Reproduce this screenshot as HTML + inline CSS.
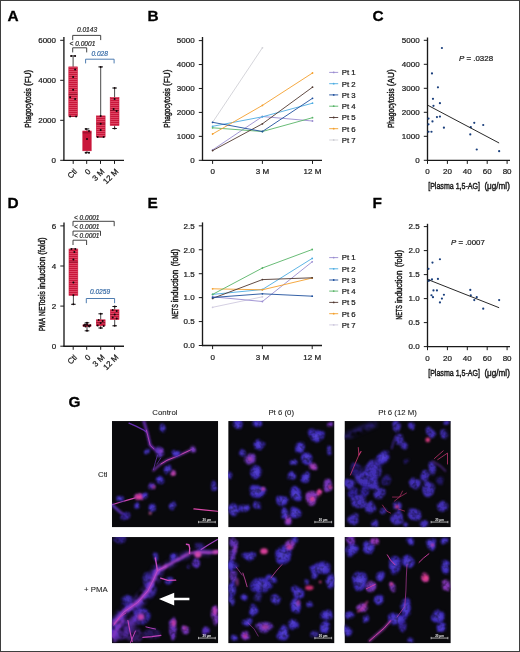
<!DOCTYPE html>
<html><head><meta charset="utf-8"><title>Figure</title>
<style>html,body{margin:0;padding:0;background:#fff;}svg{display:block;will-change:transform;}text{font-family:"Liberation Sans", sans-serif;}</style>
</head><body>
<svg width="520" height="652" viewBox="0 0 520 652">
<defs>
<pattern id="stripe" width="4" height="2" patternUnits="userSpaceOnUse"><rect width="4" height="2" fill="#c9173b"/><rect y="1.3" width="4" height="0.7" fill="#e85a76"/></pattern>
<filter id="b1" x="-50%" y="-50%" width="200%" height="200%"><feGaussianBlur stdDeviation="0.9"/></filter>
<filter id="b2" x="-50%" y="-50%" width="200%" height="200%"><feGaussianBlur stdDeviation="1.6"/></filter>
<filter id="b3" x="-50%" y="-50%" width="200%" height="200%"><feGaussianBlur stdDeviation="0.5"/></filter>
<filter id="cf" x="-10%" y="-10%" width="120%" height="120%" color-interpolation-filters="sRGB"><feTurbulence type="fractalNoise" baseFrequency="0.085" numOctaves="1" seed="7" result="n"/><feDisplacementMap in="SourceGraphic" in2="n" scale="8" xChannelSelector="R" yChannelSelector="G" result="d"/><feGaussianBlur in="d" stdDeviation="1.1" result="b"/><feTurbulence type="fractalNoise" baseFrequency="0.22" numOctaves="2" seed="3" result="n2"/><feColorMatrix in="n2" type="matrix" values="1.2 0 0 0 0.3  1.2 0 0 0 0.3  1.2 0 0 0 0.3  0 0 0 0 1" result="m"/><feComposite in="b" in2="m" operator="arithmetic" k1="1" k2="0" k3="0" k4="0"/></filter>
<filter id="hz" x="-20%" y="-20%" width="140%" height="140%" color-interpolation-filters="sRGB"><feGaussianBlur stdDeviation="2.2" result="b"/><feTurbulence type="fractalNoise" baseFrequency="0.12" numOctaves="2" seed="5" result="n2"/><feColorMatrix in="n2" type="matrix" values="2.2 0 0 0 -0.3  2.2 0 0 0 -0.3  2.2 0 0 0 -0.3  0 0 0 0 1" result="m"/><feComposite in="b" in2="m" operator="arithmetic" k1="1" k2="0" k3="0" k4="0"/></filter>
<radialGradient id="cell"><stop offset="0" stop-color="#5e4ce0"/><stop offset="0.55" stop-color="#4a36cc"/><stop offset="1" stop-color="#3322a6"/></radialGradient>
<radialGradient id="cellp"><stop offset="0" stop-color="#e048b0"/><stop offset="0.5" stop-color="#8a38c8"/><stop offset="1" stop-color="#40249a"/></radialGradient>
</defs>
<rect x="0" y="0" width="520" height="652" fill="#ffffff"/>
<text transform="translate(7.60,20.80)" font-size="15.4" text-anchor="start" fill="#000" font-weight="bold" font-style="normal"  stroke="#000" stroke-width="0.3">A</text>
<text transform="translate(147.60,20.80)" font-size="15.4" text-anchor="start" fill="#000" font-weight="bold" font-style="normal"  stroke="#000" stroke-width="0.3">B</text>
<text transform="translate(372.40,20.80)" font-size="15.4" text-anchor="start" fill="#000" font-weight="bold" font-style="normal"  stroke="#000" stroke-width="0.3">C</text>
<text transform="translate(7.60,208.30)" font-size="15.4" text-anchor="start" fill="#000" font-weight="bold" font-style="normal"  stroke="#000" stroke-width="0.3">D</text>
<text transform="translate(147.60,208.30)" font-size="15.4" text-anchor="start" fill="#000" font-weight="bold" font-style="normal"  stroke="#000" stroke-width="0.3">E</text>
<text transform="translate(372.40,208.30)" font-size="15.4" text-anchor="start" fill="#000" font-weight="bold" font-style="normal"  stroke="#000" stroke-width="0.3">F</text>
<text transform="translate(68.60,407.00)" font-size="15.4" text-anchor="start" fill="#000" font-weight="bold" font-style="normal"  stroke="#000" stroke-width="0.3">G</text>
<line x1="63.90" y1="37.00" x2="63.90" y2="160.90" stroke="#1a1a1a" stroke-width="1.35" />
<line x1="60.20" y1="160.30" x2="63.90" y2="160.30" stroke="#1a1a1a" stroke-width="1.0" />
<text transform="translate(56.00,163.15)" font-size="8.0" text-anchor="end" fill="#1a1a1a" font-weight="normal" font-style="normal"  stroke="#1a1a1a" stroke-width="0.22">0</text>
<line x1="60.20" y1="120.30" x2="63.90" y2="120.30" stroke="#1a1a1a" stroke-width="1.0" />
<text transform="translate(56.00,123.15)" font-size="8.0" text-anchor="end" fill="#1a1a1a" font-weight="normal" font-style="normal"  stroke="#1a1a1a" stroke-width="0.22">2000</text>
<line x1="60.20" y1="80.30" x2="63.90" y2="80.30" stroke="#1a1a1a" stroke-width="1.0" />
<text transform="translate(56.00,83.15)" font-size="8.0" text-anchor="end" fill="#1a1a1a" font-weight="normal" font-style="normal"  stroke="#1a1a1a" stroke-width="0.22">4000</text>
<line x1="60.20" y1="40.30" x2="63.90" y2="40.30" stroke="#1a1a1a" stroke-width="1.0" />
<text transform="translate(56.00,43.15)" font-size="8.0" text-anchor="end" fill="#1a1a1a" font-weight="normal" font-style="normal"  stroke="#1a1a1a" stroke-width="0.22">6000</text>
<line x1="63.30" y1="160.30" x2="124.00" y2="160.30" stroke="#1a1a1a" stroke-width="1.35" />
<line x1="73.20" y1="160.30" x2="73.20" y2="163.90" stroke="#1a1a1a" stroke-width="1.0" />
<line x1="86.70" y1="160.30" x2="86.70" y2="163.90" stroke="#1a1a1a" stroke-width="1.0" />
<line x1="100.50" y1="160.30" x2="100.50" y2="163.90" stroke="#1a1a1a" stroke-width="1.0" />
<line x1="114.50" y1="160.30" x2="114.50" y2="163.90" stroke="#1a1a1a" stroke-width="1.0" />
<text transform="translate(30.50,127.80) rotate(-90)" font-size="9.3" text-anchor="start" fill="#1a1a1a" font-weight="normal" font-style="normal"  textLength="39.6" lengthAdjust="spacingAndGlyphs" stroke="#1a1a1a" stroke-width="0.45">Phagocytosis</text>
<text transform="translate(30.50,85.90) rotate(-90)" font-size="9.3" text-anchor="start" fill="#1a1a1a" font-weight="normal" font-style="normal"  textLength="16.1" lengthAdjust="spacingAndGlyphs" stroke="#1a1a1a" stroke-width="0.45">(FU)</text>
<line x1="73.10" y1="55.90" x2="73.10" y2="66.90" stroke="#1a1a1a" stroke-width="0.8" />
<line x1="73.10" y1="116.40" x2="73.10" y2="116.40" stroke="#1a1a1a" stroke-width="0.8" />
<line x1="70.80" y1="55.90" x2="75.40" y2="55.90" stroke="#1a1a1a" stroke-width="1.0" />
<line x1="70.80" y1="116.40" x2="75.40" y2="116.40" stroke="#1a1a1a" stroke-width="1.0" />
<rect x="68.80" y="66.90" width="8.60" height="49.50" fill="url(#stripe)" stroke="#c9173b" stroke-width="0.6"/>
<line x1="68.80" y1="94.30" x2="77.40" y2="94.30" stroke="#8a0f28" stroke-width="0.9" />
<circle cx="71.10" cy="55.90" r="1.0" fill="#14060a" />
<circle cx="75.10" cy="55.90" r="1.0" fill="#14060a" />
<circle cx="75.10" cy="69.40" r="1.0" fill="#14060a" />
<circle cx="73.10" cy="77.00" r="1.0" fill="#14060a" />
<circle cx="73.10" cy="89.70" r="1.0" fill="#14060a" />
<circle cx="70.10" cy="97.30" r="1.0" fill="#14060a" />
<circle cx="75.10" cy="99.00" r="1.0" fill="#14060a" />
<circle cx="70.10" cy="116.40" r="1.0" fill="#14060a" />
<circle cx="76.10" cy="116.40" r="1.0" fill="#14060a" />
<line x1="87.00" y1="128.90" x2="87.00" y2="131.00" stroke="#1a1a1a" stroke-width="0.8" />
<line x1="87.00" y1="150.80" x2="87.00" y2="152.70" stroke="#1a1a1a" stroke-width="0.8" />
<line x1="84.70" y1="128.90" x2="89.30" y2="128.90" stroke="#1a1a1a" stroke-width="1.0" />
<line x1="84.70" y1="152.70" x2="89.30" y2="152.70" stroke="#1a1a1a" stroke-width="1.0" />
<rect x="82.80" y="131.00" width="8.40" height="19.80" fill="#c9173b" stroke="#c9173b" stroke-width="0.6"/>
<line x1="82.80" y1="132.80" x2="91.20" y2="132.80" stroke="#8a0f28" stroke-width="0.9" />
<circle cx="86.00" cy="129.00" r="1.0" fill="#14060a" />
<circle cx="89.00" cy="131.00" r="1.0" fill="#14060a" />
<circle cx="87.00" cy="139.00" r="1.0" fill="#14060a" />
<circle cx="86.00" cy="152.70" r="1.0" fill="#14060a" />
<circle cx="89.00" cy="152.70" r="1.0" fill="#14060a" />
<line x1="100.70" y1="66.90" x2="100.70" y2="115.90" stroke="#1a1a1a" stroke-width="0.8" />
<line x1="100.70" y1="137.00" x2="100.70" y2="137.00" stroke="#1a1a1a" stroke-width="0.8" />
<line x1="98.40" y1="66.90" x2="103.00" y2="66.90" stroke="#1a1a1a" stroke-width="1.0" />
<line x1="98.40" y1="137.00" x2="103.00" y2="137.00" stroke="#1a1a1a" stroke-width="1.0" />
<rect x="96.30" y="115.90" width="8.80" height="21.10" fill="url(#stripe)" stroke="#c9173b" stroke-width="0.6"/>
<line x1="96.30" y1="123.80" x2="105.10" y2="123.80" stroke="#8a0f28" stroke-width="0.9" />
<circle cx="100.70" cy="66.90" r="1.0" fill="#14060a" />
<circle cx="100.70" cy="116.00" r="1.0" fill="#14060a" />
<circle cx="100.70" cy="123.80" r="1.0" fill="#14060a" />
<circle cx="100.70" cy="130.00" r="1.0" fill="#14060a" />
<circle cx="97.70" cy="137.00" r="1.0" fill="#14060a" />
<circle cx="103.70" cy="137.00" r="1.0" fill="#14060a" />
<line x1="114.60" y1="88.00" x2="114.60" y2="97.60" stroke="#1a1a1a" stroke-width="0.8" />
<line x1="114.60" y1="125.50" x2="114.60" y2="128.50" stroke="#1a1a1a" stroke-width="0.8" />
<line x1="112.30" y1="88.00" x2="116.90" y2="88.00" stroke="#1a1a1a" stroke-width="1.0" />
<line x1="112.30" y1="128.50" x2="116.90" y2="128.50" stroke="#1a1a1a" stroke-width="1.0" />
<rect x="110.20" y="97.60" width="8.80" height="27.90" fill="url(#stripe)" stroke="#c9173b" stroke-width="0.6"/>
<line x1="110.20" y1="110.50" x2="119.00" y2="110.50" stroke="#8a0f28" stroke-width="0.9" />
<circle cx="114.60" cy="88.00" r="1.0" fill="#14060a" />
<circle cx="114.60" cy="99.00" r="1.0" fill="#14060a" />
<circle cx="113.60" cy="109.00" r="1.0" fill="#14060a" />
<circle cx="116.60" cy="111.00" r="1.0" fill="#14060a" />
<circle cx="114.60" cy="128.50" r="1.0" fill="#14060a" />
<text transform="translate(77.60,172.00) rotate(-45)" font-size="8.0" text-anchor="end" fill="#1a1a1a" font-weight="normal" font-style="normal"  stroke="#1a1a1a" stroke-width="0.22">Ctl</text>
<text transform="translate(91.10,172.00) rotate(-45)" font-size="8.0" text-anchor="end" fill="#1a1a1a" font-weight="normal" font-style="normal"  stroke="#1a1a1a" stroke-width="0.22">0</text>
<text transform="translate(104.90,172.00) rotate(-45)" font-size="8.0" text-anchor="end" fill="#1a1a1a" font-weight="normal" font-style="normal"  stroke="#1a1a1a" stroke-width="0.22">3 M</text>
<text transform="translate(118.90,172.00) rotate(-45)" font-size="8.0" text-anchor="end" fill="#1a1a1a" font-weight="normal" font-style="normal"  stroke="#1a1a1a" stroke-width="0.22">12 M</text>
<polyline points="72.70,40.10 72.70,35.40 100.70,35.40 100.70,40.10" fill="none" stroke="#2e2e2e" stroke-width="0.9" />
<text transform="translate(87.00,32.10)" font-size="6.6" text-anchor="middle" fill="#2e2e2e" font-weight="normal" font-style="italic"  stroke="#2e2e2e" stroke-width="0.22">0.0143</text>
<polyline points="72.70,52.40 72.70,47.80 86.70,47.80 86.70,52.40" fill="none" stroke="#2e2e2e" stroke-width="0.9" />
<text transform="translate(82.40,46.00)" font-size="6.6" text-anchor="middle" fill="#2e2e2e" font-weight="normal" font-style="italic"  stroke="#2e2e2e" stroke-width="0.22">&lt; 0.0001</text>
<polyline points="85.60,63.40 85.60,59.20 114.10,59.20 114.10,63.40" fill="none" stroke="#3b6ea8" stroke-width="0.9" />
<text transform="translate(99.70,56.10)" font-size="6.6" text-anchor="middle" fill="#3b6ea8" font-weight="normal" font-style="italic"  stroke="#3b6ea8" stroke-width="0.22">0.028</text>
<line x1="202.50" y1="37.00" x2="202.50" y2="160.90" stroke="#1a1a1a" stroke-width="1.35" />
<line x1="198.80" y1="160.30" x2="202.50" y2="160.30" stroke="#1a1a1a" stroke-width="1.0" />
<text transform="translate(194.60,163.15)" font-size="8.0" text-anchor="end" fill="#1a1a1a" font-weight="normal" font-style="normal"  stroke="#1a1a1a" stroke-width="0.22">0</text>
<line x1="198.80" y1="136.36" x2="202.50" y2="136.36" stroke="#1a1a1a" stroke-width="1.0" />
<text transform="translate(194.60,139.21)" font-size="8.0" text-anchor="end" fill="#1a1a1a" font-weight="normal" font-style="normal"  stroke="#1a1a1a" stroke-width="0.22">1000</text>
<line x1="198.80" y1="112.42" x2="202.50" y2="112.42" stroke="#1a1a1a" stroke-width="1.0" />
<text transform="translate(194.60,115.27)" font-size="8.0" text-anchor="end" fill="#1a1a1a" font-weight="normal" font-style="normal"  stroke="#1a1a1a" stroke-width="0.22">2000</text>
<line x1="198.80" y1="88.48" x2="202.50" y2="88.48" stroke="#1a1a1a" stroke-width="1.0" />
<text transform="translate(194.60,91.33)" font-size="8.0" text-anchor="end" fill="#1a1a1a" font-weight="normal" font-style="normal"  stroke="#1a1a1a" stroke-width="0.22">3000</text>
<line x1="198.80" y1="64.54" x2="202.50" y2="64.54" stroke="#1a1a1a" stroke-width="1.0" />
<text transform="translate(194.60,67.39)" font-size="8.0" text-anchor="end" fill="#1a1a1a" font-weight="normal" font-style="normal"  stroke="#1a1a1a" stroke-width="0.22">4000</text>
<line x1="198.80" y1="40.60" x2="202.50" y2="40.60" stroke="#1a1a1a" stroke-width="1.0" />
<text transform="translate(194.60,43.45)" font-size="8.0" text-anchor="end" fill="#1a1a1a" font-weight="normal" font-style="normal"  stroke="#1a1a1a" stroke-width="0.22">5000</text>
<line x1="201.90" y1="160.30" x2="322.00" y2="160.30" stroke="#1a1a1a" stroke-width="1.35" />
<line x1="212.60" y1="160.30" x2="212.60" y2="163.90" stroke="#1a1a1a" stroke-width="1.0" />
<line x1="262.40" y1="160.30" x2="262.40" y2="163.90" stroke="#1a1a1a" stroke-width="1.0" />
<line x1="312.50" y1="160.30" x2="312.50" y2="163.90" stroke="#1a1a1a" stroke-width="1.0" />
<text transform="translate(169.70,127.80) rotate(-90)" font-size="9.3" text-anchor="start" fill="#1a1a1a" font-weight="normal" font-style="normal"  textLength="39.6" lengthAdjust="spacingAndGlyphs" stroke="#1a1a1a" stroke-width="0.45">Phagocytosis</text>
<text transform="translate(169.70,85.90) rotate(-90)" font-size="9.3" text-anchor="start" fill="#1a1a1a" font-weight="normal" font-style="normal"  textLength="16.3" lengthAdjust="spacingAndGlyphs" stroke="#1a1a1a" stroke-width="0.45">(FU)</text>
<text transform="translate(212.60,174.30)" font-size="8.0" text-anchor="middle" fill="#1a1a1a" font-weight="normal" font-style="normal"  stroke="#1a1a1a" stroke-width="0.22">0</text>
<text transform="translate(262.40,174.30)" font-size="8.0" text-anchor="middle" fill="#1a1a1a" font-weight="normal" font-style="normal"  stroke="#1a1a1a" stroke-width="0.22">3 M</text>
<text transform="translate(312.50,174.30)" font-size="8.0" text-anchor="middle" fill="#1a1a1a" font-weight="normal" font-style="normal"  stroke="#1a1a1a" stroke-width="0.22">12 M</text>
<polyline points="212.60,122.30 262.40,47.80" fill="none" stroke="#d0d0d6" stroke-width="0.9" stroke-linejoin="round"/>
<circle cx="212.60" cy="122.30" r="0.9" fill="#d0d0d6" />
<circle cx="262.40" cy="47.80" r="0.9" fill="#d0d0d6" />
<polyline points="212.60,149.90 262.40,116.50 312.50,121.00" fill="none" stroke="#9a8cd0" stroke-width="0.9" stroke-linejoin="round"/>
<circle cx="212.60" cy="149.90" r="0.9" fill="#9a8cd0" />
<circle cx="262.40" cy="116.50" r="0.9" fill="#9a8cd0" />
<circle cx="312.50" cy="121.00" r="0.9" fill="#9a8cd0" />
<polyline points="212.60,126.30 262.40,116.80 312.50,103.20" fill="none" stroke="#4cace2" stroke-width="0.9" stroke-linejoin="round"/>
<circle cx="212.60" cy="126.30" r="0.9" fill="#4cace2" />
<circle cx="262.40" cy="116.80" r="0.9" fill="#4cace2" />
<circle cx="312.50" cy="103.20" r="0.9" fill="#4cace2" />
<polyline points="212.60,127.80 262.40,131.50 312.50,117.70" fill="none" stroke="#58b468" stroke-width="0.9" stroke-linejoin="round"/>
<circle cx="212.60" cy="127.80" r="0.9" fill="#58b468" />
<circle cx="262.40" cy="131.50" r="0.9" fill="#58b468" />
<circle cx="312.50" cy="117.70" r="0.9" fill="#58b468" />
<polyline points="212.60,134.00 262.40,105.40 312.50,73.00" fill="none" stroke="#f49f2c" stroke-width="0.9" stroke-linejoin="round"/>
<circle cx="212.60" cy="134.00" r="0.9" fill="#f49f2c" />
<circle cx="262.40" cy="105.40" r="0.9" fill="#f49f2c" />
<circle cx="312.50" cy="73.00" r="0.9" fill="#f49f2c" />
<polyline points="212.60,150.60 262.40,123.80 312.50,87.20" fill="none" stroke="#503830" stroke-width="0.9" stroke-linejoin="round"/>
<circle cx="212.60" cy="150.60" r="0.9" fill="#503830" />
<circle cx="262.40" cy="123.80" r="0.9" fill="#503830" />
<circle cx="312.50" cy="87.20" r="0.9" fill="#503830" />
<polyline points="212.60,122.30 262.40,131.50 312.50,98.30" fill="none" stroke="#1e4f9c" stroke-width="0.9" stroke-linejoin="round"/>
<circle cx="212.60" cy="122.30" r="0.9" fill="#1e4f9c" />
<circle cx="262.40" cy="131.50" r="0.9" fill="#1e4f9c" />
<circle cx="312.50" cy="98.30" r="0.9" fill="#1e4f9c" />
<line x1="329.20" y1="72.40" x2="338.20" y2="72.40" stroke="#9a8cd0" stroke-width="0.9" />
<circle cx="333.70" cy="72.40" r="0.9" fill="#9a8cd0" />
<text transform="translate(341.80,75.20)" font-size="7.8" text-anchor="start" fill="#1a1a1a" font-weight="normal" font-style="normal"  stroke="#1a1a1a" stroke-width="0.22">Pt 1</text>
<line x1="329.20" y1="83.70" x2="338.20" y2="83.70" stroke="#4cace2" stroke-width="0.9" />
<circle cx="333.70" cy="83.70" r="0.9" fill="#4cace2" />
<text transform="translate(341.80,86.50)" font-size="7.8" text-anchor="start" fill="#1a1a1a" font-weight="normal" font-style="normal"  stroke="#1a1a1a" stroke-width="0.22">Pt 2</text>
<line x1="329.20" y1="94.90" x2="338.20" y2="94.90" stroke="#1e4f9c" stroke-width="0.9" />
<circle cx="333.70" cy="94.90" r="0.9" fill="#1e4f9c" />
<text transform="translate(341.80,97.70)" font-size="7.8" text-anchor="start" fill="#1a1a1a" font-weight="normal" font-style="normal"  stroke="#1a1a1a" stroke-width="0.22">Pt 3</text>
<line x1="329.20" y1="106.20" x2="338.20" y2="106.20" stroke="#58b468" stroke-width="0.9" />
<circle cx="333.70" cy="106.20" r="0.9" fill="#58b468" />
<text transform="translate(341.80,109.00)" font-size="7.8" text-anchor="start" fill="#1a1a1a" font-weight="normal" font-style="normal"  stroke="#1a1a1a" stroke-width="0.22">Pt 4</text>
<line x1="329.20" y1="117.50" x2="338.20" y2="117.50" stroke="#503830" stroke-width="0.9" />
<circle cx="333.70" cy="117.50" r="0.9" fill="#503830" />
<text transform="translate(341.80,120.30)" font-size="7.8" text-anchor="start" fill="#1a1a1a" font-weight="normal" font-style="normal"  stroke="#1a1a1a" stroke-width="0.22">Pt 5</text>
<line x1="329.20" y1="128.70" x2="338.20" y2="128.70" stroke="#f49f2c" stroke-width="0.9" />
<circle cx="333.70" cy="128.70" r="0.9" fill="#f49f2c" />
<text transform="translate(341.80,131.50)" font-size="7.8" text-anchor="start" fill="#1a1a1a" font-weight="normal" font-style="normal"  stroke="#1a1a1a" stroke-width="0.22">Pt 6</text>
<line x1="329.20" y1="140.00" x2="338.20" y2="140.00" stroke="#d0d0d6" stroke-width="0.9" />
<circle cx="333.70" cy="140.00" r="0.9" fill="#d0d0d6" />
<text transform="translate(341.80,142.80)" font-size="7.8" text-anchor="start" fill="#1a1a1a" font-weight="normal" font-style="normal"  stroke="#1a1a1a" stroke-width="0.22">Pt 7</text>
<line x1="427.50" y1="37.50" x2="427.50" y2="160.90" stroke="#1a1a1a" stroke-width="1.35" />
<line x1="423.80" y1="160.30" x2="427.50" y2="160.30" stroke="#1a1a1a" stroke-width="1.0" />
<text transform="translate(419.60,163.15)" font-size="8.0" text-anchor="end" fill="#1a1a1a" font-weight="normal" font-style="normal"  stroke="#1a1a1a" stroke-width="0.22">0</text>
<line x1="423.80" y1="136.30" x2="427.50" y2="136.30" stroke="#1a1a1a" stroke-width="1.0" />
<text transform="translate(419.60,139.15)" font-size="8.0" text-anchor="end" fill="#1a1a1a" font-weight="normal" font-style="normal"  stroke="#1a1a1a" stroke-width="0.22">1000</text>
<line x1="423.80" y1="112.30" x2="427.50" y2="112.30" stroke="#1a1a1a" stroke-width="1.0" />
<text transform="translate(419.60,115.15)" font-size="8.0" text-anchor="end" fill="#1a1a1a" font-weight="normal" font-style="normal"  stroke="#1a1a1a" stroke-width="0.22">2000</text>
<line x1="423.80" y1="88.30" x2="427.50" y2="88.30" stroke="#1a1a1a" stroke-width="1.0" />
<text transform="translate(419.60,91.15)" font-size="8.0" text-anchor="end" fill="#1a1a1a" font-weight="normal" font-style="normal"  stroke="#1a1a1a" stroke-width="0.22">3000</text>
<line x1="423.80" y1="64.30" x2="427.50" y2="64.30" stroke="#1a1a1a" stroke-width="1.0" />
<text transform="translate(419.60,67.15)" font-size="8.0" text-anchor="end" fill="#1a1a1a" font-weight="normal" font-style="normal"  stroke="#1a1a1a" stroke-width="0.22">4000</text>
<line x1="423.80" y1="40.30" x2="427.50" y2="40.30" stroke="#1a1a1a" stroke-width="1.0" />
<text transform="translate(419.60,43.15)" font-size="8.0" text-anchor="end" fill="#1a1a1a" font-weight="normal" font-style="normal"  stroke="#1a1a1a" stroke-width="0.22">5000</text>
<line x1="426.90" y1="160.30" x2="510.00" y2="160.30" stroke="#1a1a1a" stroke-width="1.35" />
<line x1="427.50" y1="160.30" x2="427.50" y2="163.90" stroke="#1a1a1a" stroke-width="1.0" />
<line x1="447.40" y1="160.30" x2="447.40" y2="163.90" stroke="#1a1a1a" stroke-width="1.0" />
<line x1="467.30" y1="160.30" x2="467.30" y2="163.90" stroke="#1a1a1a" stroke-width="1.0" />
<line x1="487.20" y1="160.30" x2="487.20" y2="163.90" stroke="#1a1a1a" stroke-width="1.0" />
<line x1="507.10" y1="160.30" x2="507.10" y2="163.90" stroke="#1a1a1a" stroke-width="1.0" />
<text transform="translate(427.50,174.30)" font-size="8.0" text-anchor="middle" fill="#1a1a1a" font-weight="normal" font-style="normal"  stroke="#1a1a1a" stroke-width="0.22">0</text>
<text transform="translate(447.40,174.30)" font-size="8.0" text-anchor="middle" fill="#1a1a1a" font-weight="normal" font-style="normal"  stroke="#1a1a1a" stroke-width="0.22">20</text>
<text transform="translate(467.30,174.30)" font-size="8.0" text-anchor="middle" fill="#1a1a1a" font-weight="normal" font-style="normal"  stroke="#1a1a1a" stroke-width="0.22">40</text>
<text transform="translate(487.20,174.30)" font-size="8.0" text-anchor="middle" fill="#1a1a1a" font-weight="normal" font-style="normal"  stroke="#1a1a1a" stroke-width="0.22">60</text>
<text transform="translate(507.10,174.30)" font-size="8.0" text-anchor="middle" fill="#1a1a1a" font-weight="normal" font-style="normal"  stroke="#1a1a1a" stroke-width="0.22">80</text>
<text transform="translate(393.80,128.10) rotate(-90)" font-size="9.3" text-anchor="start" fill="#1a1a1a" font-weight="normal" font-style="normal"  textLength="39.6" lengthAdjust="spacingAndGlyphs" stroke="#1a1a1a" stroke-width="0.45">Phagocytosis</text>
<text transform="translate(393.80,86.20) rotate(-90)" font-size="9.3" text-anchor="start" fill="#1a1a1a" font-weight="normal" font-style="normal"  textLength="16.8" lengthAdjust="spacingAndGlyphs" stroke="#1a1a1a" stroke-width="0.45">(AU)</text>
<text transform="translate(428.20,189.00)" font-size="9.3" text-anchor="start" fill="#1a1a1a" font-weight="normal" font-style="normal"  textLength="51.8" lengthAdjust="spacingAndGlyphs" stroke="#1a1a1a" stroke-width="0.45">[Plasma 1,5-AG]</text>
<text transform="translate(484.40,189.00)" font-size="9.3" text-anchor="start" fill="#1a1a1a" font-weight="normal" font-style="normal"  textLength="25.5" lengthAdjust="spacingAndGlyphs" stroke="#1a1a1a" stroke-width="0.45">(μg/ml)</text>
<circle cx="441.93" cy="47.98" r="1.1" fill="#1a3f7c" />
<circle cx="431.98" cy="73.42" r="1.1" fill="#1a3f7c" />
<circle cx="437.95" cy="87.34" r="1.1" fill="#1a3f7c" />
<circle cx="432.97" cy="98.86" r="1.1" fill="#1a3f7c" />
<circle cx="439.94" cy="103.18" r="1.1" fill="#1a3f7c" />
<circle cx="433.47" cy="105.82" r="1.1" fill="#1a3f7c" />
<circle cx="428.50" cy="118.54" r="1.1" fill="#1a3f7c" />
<circle cx="436.95" cy="117.10" r="1.1" fill="#1a3f7c" />
<circle cx="439.94" cy="116.62" r="1.1" fill="#1a3f7c" />
<circle cx="432.48" cy="121.42" r="1.1" fill="#1a3f7c" />
<circle cx="428.50" cy="124.30" r="1.1" fill="#1a3f7c" />
<circle cx="443.92" cy="127.66" r="1.1" fill="#1a3f7c" />
<circle cx="428.50" cy="131.74" r="1.1" fill="#1a3f7c" />
<circle cx="431.48" cy="131.74" r="1.1" fill="#1a3f7c" />
<circle cx="470.78" cy="127.18" r="1.1" fill="#1a3f7c" />
<circle cx="474.26" cy="122.86" r="1.1" fill="#1a3f7c" />
<circle cx="483.22" cy="125.02" r="1.1" fill="#1a3f7c" />
<circle cx="470.28" cy="134.38" r="1.1" fill="#1a3f7c" />
<circle cx="476.75" cy="149.50" r="1.1" fill="#1a3f7c" />
<circle cx="499.14" cy="151.18" r="1.1" fill="#1a3f7c" />
<line x1="427.50" y1="105.10" x2="499.14" y2="143.02" stroke="#1c1c1c" stroke-width="0.95" />
<text transform="translate(458.90,61.40)" font-size="8.0" text-anchor="start" fill="#1a1a1a" font-weight="normal" font-style="normal"  textLength="34.2" lengthAdjust="spacingAndGlyphs" stroke="#1a1a1a" stroke-width="0.22"><tspan font-style="italic">P</tspan> = .0328</text>
<line x1="64.00" y1="222.50" x2="64.00" y2="346.80" stroke="#1a1a1a" stroke-width="1.35" />
<line x1="60.30" y1="346.20" x2="64.00" y2="346.20" stroke="#1a1a1a" stroke-width="1.0" />
<text transform="translate(56.10,349.05)" font-size="8.0" text-anchor="end" fill="#1a1a1a" font-weight="normal" font-style="normal"  stroke="#1a1a1a" stroke-width="0.22">0</text>
<line x1="60.30" y1="306.10" x2="64.00" y2="306.10" stroke="#1a1a1a" stroke-width="1.0" />
<text transform="translate(56.10,308.95)" font-size="8.0" text-anchor="end" fill="#1a1a1a" font-weight="normal" font-style="normal"  stroke="#1a1a1a" stroke-width="0.22">2</text>
<line x1="60.30" y1="266.00" x2="64.00" y2="266.00" stroke="#1a1a1a" stroke-width="1.0" />
<text transform="translate(56.10,268.85)" font-size="8.0" text-anchor="end" fill="#1a1a1a" font-weight="normal" font-style="normal"  stroke="#1a1a1a" stroke-width="0.22">4</text>
<line x1="60.30" y1="225.90" x2="64.00" y2="225.90" stroke="#1a1a1a" stroke-width="1.0" />
<text transform="translate(56.10,228.75)" font-size="8.0" text-anchor="end" fill="#1a1a1a" font-weight="normal" font-style="normal"  stroke="#1a1a1a" stroke-width="0.22">6</text>
<line x1="63.40" y1="346.20" x2="124.00" y2="346.20" stroke="#1a1a1a" stroke-width="1.35" />
<line x1="73.20" y1="346.20" x2="73.20" y2="349.80" stroke="#1a1a1a" stroke-width="1.0" />
<line x1="86.70" y1="346.20" x2="86.70" y2="349.80" stroke="#1a1a1a" stroke-width="1.0" />
<line x1="100.70" y1="346.20" x2="100.70" y2="349.80" stroke="#1a1a1a" stroke-width="1.0" />
<line x1="114.60" y1="346.20" x2="114.60" y2="349.80" stroke="#1a1a1a" stroke-width="1.0" />
<text transform="translate(45.40,330.90) rotate(-90)" font-size="9.3" text-anchor="start" fill="#1a1a1a" font-weight="normal" font-style="normal"  textLength="12.9" lengthAdjust="spacingAndGlyphs" stroke="#1a1a1a" stroke-width="0.45">PMA</text>
<text transform="translate(45.40,315.90) rotate(-90)" font-size="9.3" text-anchor="start" fill="#1a1a1a" font-weight="normal" font-style="normal"  textLength="24.7" lengthAdjust="spacingAndGlyphs" stroke="#1a1a1a" stroke-width="0.45">NETosis</text>
<text transform="translate(45.40,289.00) rotate(-90)" font-size="9.3" text-anchor="start" fill="#1a1a1a" font-weight="normal" font-style="normal"  textLength="32.2" lengthAdjust="spacingAndGlyphs" stroke="#1a1a1a" stroke-width="0.45">induction</text>
<text transform="translate(45.40,254.70) rotate(-90)" font-size="9.3" text-anchor="start" fill="#1a1a1a" font-weight="normal" font-style="normal"  textLength="17.2" lengthAdjust="spacingAndGlyphs" stroke="#1a1a1a" stroke-width="0.45">(fold)</text>
<line x1="73.40" y1="249.00" x2="73.40" y2="249.00" stroke="#1a1a1a" stroke-width="0.8" />
<line x1="73.40" y1="295.30" x2="73.40" y2="304.30" stroke="#1a1a1a" stroke-width="0.8" />
<line x1="71.10" y1="249.00" x2="75.70" y2="249.00" stroke="#1a1a1a" stroke-width="1.0" />
<line x1="71.10" y1="304.30" x2="75.70" y2="304.30" stroke="#1a1a1a" stroke-width="1.0" />
<rect x="69.00" y="249.00" width="8.80" height="46.30" fill="url(#stripe)" stroke="#c9173b" stroke-width="0.6"/>
<line x1="69.00" y1="262.00" x2="77.80" y2="262.00" stroke="#8a0f28" stroke-width="0.9" />
<circle cx="71.40" cy="249.00" r="1.0" fill="#14060a" />
<circle cx="75.40" cy="249.00" r="1.0" fill="#14060a" />
<circle cx="74.40" cy="252.00" r="1.0" fill="#14060a" />
<circle cx="73.40" cy="259.50" r="1.0" fill="#14060a" />
<circle cx="73.40" cy="282.50" r="1.0" fill="#14060a" />
<circle cx="73.40" cy="295.30" r="1.0" fill="#14060a" />
<circle cx="73.40" cy="304.30" r="1.0" fill="#14060a" />
<line x1="87.00" y1="322.80" x2="87.00" y2="324.80" stroke="#1a1a1a" stroke-width="0.8" />
<line x1="87.00" y1="326.40" x2="87.00" y2="330.80" stroke="#1a1a1a" stroke-width="0.8" />
<line x1="84.70" y1="322.80" x2="89.30" y2="322.80" stroke="#1a1a1a" stroke-width="1.0" />
<line x1="84.70" y1="330.80" x2="89.30" y2="330.80" stroke="#1a1a1a" stroke-width="1.0" />
<rect x="83.00" y="324.80" width="8.00" height="1.60" fill="#c9173b" stroke="#c9173b" stroke-width="0.6"/>
<line x1="83.00" y1="325.60" x2="91.00" y2="325.60" stroke="#8a0f28" stroke-width="0.9" />
<circle cx="83.80" cy="325.60" r="1.0" fill="#14060a" />
<circle cx="90.20" cy="325.20" r="1.0" fill="#14060a" />
<circle cx="87.00" cy="322.80" r="1.0" fill="#14060a" />
<circle cx="85.50" cy="326.60" r="1.0" fill="#14060a" />
<circle cx="88.50" cy="325.80" r="1.0" fill="#14060a" />
<circle cx="87.00" cy="324.60" r="1.0" fill="#14060a" />
<circle cx="85.00" cy="324.60" r="1.0" fill="#14060a" />
<circle cx="89.20" cy="326.60" r="1.0" fill="#14060a" />
<circle cx="87.00" cy="330.80" r="1.0" fill="#14060a" />
<line x1="100.70" y1="313.80" x2="100.70" y2="319.80" stroke="#1a1a1a" stroke-width="0.8" />
<line x1="100.70" y1="325.80" x2="100.70" y2="328.00" stroke="#1a1a1a" stroke-width="0.8" />
<line x1="98.40" y1="313.80" x2="103.00" y2="313.80" stroke="#1a1a1a" stroke-width="1.0" />
<line x1="98.40" y1="328.00" x2="103.00" y2="328.00" stroke="#1a1a1a" stroke-width="1.0" />
<rect x="96.30" y="319.80" width="8.80" height="6.00" fill="url(#stripe)" stroke="#c9173b" stroke-width="0.6"/>
<line x1="96.30" y1="322.80" x2="105.10" y2="322.80" stroke="#8a0f28" stroke-width="0.9" />
<circle cx="100.70" cy="313.80" r="1.0" fill="#14060a" />
<circle cx="98.70" cy="320.00" r="1.0" fill="#14060a" />
<circle cx="102.70" cy="321.00" r="1.0" fill="#14060a" />
<circle cx="100.70" cy="323.00" r="1.0" fill="#14060a" />
<circle cx="97.70" cy="325.50" r="1.0" fill="#14060a" />
<circle cx="103.70" cy="326.00" r="1.0" fill="#14060a" />
<circle cx="100.70" cy="328.00" r="1.0" fill="#14060a" />
<line x1="114.70" y1="306.50" x2="114.70" y2="309.80" stroke="#1a1a1a" stroke-width="0.8" />
<line x1="114.70" y1="319.50" x2="114.70" y2="325.80" stroke="#1a1a1a" stroke-width="0.8" />
<line x1="112.40" y1="306.50" x2="117.00" y2="306.50" stroke="#1a1a1a" stroke-width="1.0" />
<line x1="112.40" y1="325.80" x2="117.00" y2="325.80" stroke="#1a1a1a" stroke-width="1.0" />
<rect x="110.40" y="309.80" width="8.60" height="9.70" fill="url(#stripe)" stroke="#c9173b" stroke-width="0.6"/>
<line x1="110.40" y1="314.50" x2="119.00" y2="314.50" stroke="#8a0f28" stroke-width="0.9" />
<circle cx="114.70" cy="306.50" r="1.0" fill="#14060a" />
<circle cx="112.70" cy="310.00" r="1.0" fill="#14060a" />
<circle cx="116.70" cy="311.00" r="1.0" fill="#14060a" />
<circle cx="114.70" cy="314.50" r="1.0" fill="#14060a" />
<circle cx="112.70" cy="317.50" r="1.0" fill="#14060a" />
<circle cx="116.70" cy="318.50" r="1.0" fill="#14060a" />
<circle cx="114.70" cy="325.80" r="1.0" fill="#14060a" />
<text transform="translate(77.60,357.90) rotate(-45)" font-size="8.0" text-anchor="end" fill="#1a1a1a" font-weight="normal" font-style="normal"  stroke="#1a1a1a" stroke-width="0.22">Ctl</text>
<text transform="translate(91.10,357.90) rotate(-45)" font-size="8.0" text-anchor="end" fill="#1a1a1a" font-weight="normal" font-style="normal"  stroke="#1a1a1a" stroke-width="0.22">0</text>
<text transform="translate(105.10,357.90) rotate(-45)" font-size="8.0" text-anchor="end" fill="#1a1a1a" font-weight="normal" font-style="normal"  stroke="#1a1a1a" stroke-width="0.22">3 M</text>
<text transform="translate(119.00,357.90) rotate(-45)" font-size="8.0" text-anchor="end" fill="#1a1a1a" font-weight="normal" font-style="normal"  stroke="#1a1a1a" stroke-width="0.22">12 M</text>
<polyline points="73.00,226.20 73.00,221.30 114.20,221.30 114.20,226.20" fill="none" stroke="#2e2e2e" stroke-width="0.9" />
<text transform="translate(74.00,219.60)" font-size="6.5" text-anchor="start" fill="#2e2e2e" font-weight="normal" font-style="italic"  stroke="#2e2e2e" stroke-width="0.22">&lt; 0.0001</text>
<polyline points="73.00,235.80 73.00,231.10 100.50,231.10 100.50,235.80" fill="none" stroke="#2e2e2e" stroke-width="0.9" />
<text transform="translate(74.00,229.00)" font-size="6.5" text-anchor="start" fill="#2e2e2e" font-weight="normal" font-style="italic"  stroke="#2e2e2e" stroke-width="0.22">&lt; 0.0001</text>
<polyline points="73.00,245.00 73.00,240.20 86.60,240.20 86.60,245.00" fill="none" stroke="#2e2e2e" stroke-width="0.9" />
<text transform="translate(74.00,238.00)" font-size="6.5" text-anchor="start" fill="#2e2e2e" font-weight="normal" font-style="italic"  stroke="#2e2e2e" stroke-width="0.22">&lt; 0.0001</text>
<polyline points="86.30,303.20 86.30,298.50 114.60,298.50 114.60,303.20" fill="none" stroke="#3b6ea8" stroke-width="0.9" />
<text transform="translate(100.00,294.30)" font-size="6.6" text-anchor="middle" fill="#3b6ea8" font-weight="normal" font-style="italic"  stroke="#3b6ea8" stroke-width="0.22">0.0259</text>
<line x1="202.50" y1="222.40" x2="202.50" y2="346.10" stroke="#1a1a1a" stroke-width="1.35" />
<line x1="198.80" y1="345.50" x2="202.50" y2="345.50" stroke="#1a1a1a" stroke-width="1.0" />
<text transform="translate(194.60,348.35)" font-size="8.0" text-anchor="end" fill="#1a1a1a" font-weight="normal" font-style="normal"  stroke="#1a1a1a" stroke-width="0.22">0.0</text>
<line x1="198.80" y1="321.57" x2="202.50" y2="321.57" stroke="#1a1a1a" stroke-width="1.0" />
<text transform="translate(194.60,324.42)" font-size="8.0" text-anchor="end" fill="#1a1a1a" font-weight="normal" font-style="normal"  stroke="#1a1a1a" stroke-width="0.22">0.5</text>
<line x1="198.80" y1="297.64" x2="202.50" y2="297.64" stroke="#1a1a1a" stroke-width="1.0" />
<text transform="translate(194.60,300.49)" font-size="8.0" text-anchor="end" fill="#1a1a1a" font-weight="normal" font-style="normal"  stroke="#1a1a1a" stroke-width="0.22">1.0</text>
<line x1="198.80" y1="273.71" x2="202.50" y2="273.71" stroke="#1a1a1a" stroke-width="1.0" />
<text transform="translate(194.60,276.56)" font-size="8.0" text-anchor="end" fill="#1a1a1a" font-weight="normal" font-style="normal"  stroke="#1a1a1a" stroke-width="0.22">1.5</text>
<line x1="198.80" y1="249.78" x2="202.50" y2="249.78" stroke="#1a1a1a" stroke-width="1.0" />
<text transform="translate(194.60,252.63)" font-size="8.0" text-anchor="end" fill="#1a1a1a" font-weight="normal" font-style="normal"  stroke="#1a1a1a" stroke-width="0.22">2.0</text>
<line x1="198.80" y1="225.85" x2="202.50" y2="225.85" stroke="#1a1a1a" stroke-width="1.0" />
<text transform="translate(194.60,228.70)" font-size="8.0" text-anchor="end" fill="#1a1a1a" font-weight="normal" font-style="normal"  stroke="#1a1a1a" stroke-width="0.22">2.5</text>
<line x1="201.90" y1="345.50" x2="322.00" y2="345.50" stroke="#1a1a1a" stroke-width="1.35" />
<line x1="212.60" y1="345.50" x2="212.60" y2="349.10" stroke="#1a1a1a" stroke-width="1.0" />
<line x1="262.40" y1="345.50" x2="262.40" y2="349.10" stroke="#1a1a1a" stroke-width="1.0" />
<line x1="312.20" y1="345.50" x2="312.20" y2="349.10" stroke="#1a1a1a" stroke-width="1.0" />
<text transform="translate(177.80,318.70) rotate(-90)" font-size="9.3" text-anchor="start" fill="#1a1a1a" font-weight="normal" font-style="normal"  textLength="14.5" lengthAdjust="spacingAndGlyphs" stroke="#1a1a1a" stroke-width="0.45">NETS</text>
<text transform="translate(177.80,302.20) rotate(-90)" font-size="9.3" text-anchor="start" fill="#1a1a1a" font-weight="normal" font-style="normal"  textLength="32.5" lengthAdjust="spacingAndGlyphs" stroke="#1a1a1a" stroke-width="0.45">induction</text>
<text transform="translate(177.80,266.20) rotate(-90)" font-size="9.3" text-anchor="start" fill="#1a1a1a" font-weight="normal" font-style="normal"  textLength="17.2" lengthAdjust="spacingAndGlyphs" stroke="#1a1a1a" stroke-width="0.45">(fold)</text>
<text transform="translate(212.60,359.50)" font-size="8.0" text-anchor="middle" fill="#1a1a1a" font-weight="normal" font-style="normal"  stroke="#1a1a1a" stroke-width="0.22">0</text>
<text transform="translate(262.40,359.50)" font-size="8.0" text-anchor="middle" fill="#1a1a1a" font-weight="normal" font-style="normal"  stroke="#1a1a1a" stroke-width="0.22">3 M</text>
<text transform="translate(312.20,359.50)" font-size="8.0" text-anchor="middle" fill="#1a1a1a" font-weight="normal" font-style="normal"  stroke="#1a1a1a" stroke-width="0.22">12 M</text>
<polyline points="212.60,307.30 262.40,296.80" fill="none" stroke="#cfcadf" stroke-width="0.9" stroke-linejoin="round"/>
<circle cx="212.60" cy="307.30" r="0.9" fill="#cfcadf" />
<circle cx="262.40" cy="296.80" r="0.9" fill="#cfcadf" />
<polyline points="212.60,296.80 262.40,301.50 312.20,261.80" fill="none" stroke="#9a8cd0" stroke-width="0.9" stroke-linejoin="round"/>
<circle cx="212.60" cy="296.80" r="0.9" fill="#9a8cd0" />
<circle cx="262.40" cy="301.50" r="0.9" fill="#9a8cd0" />
<circle cx="312.20" cy="261.80" r="0.9" fill="#9a8cd0" />
<polyline points="212.60,294.40 262.40,289.50 312.20,258.40" fill="none" stroke="#4cace2" stroke-width="0.9" stroke-linejoin="round"/>
<circle cx="212.60" cy="294.40" r="0.9" fill="#4cace2" />
<circle cx="262.40" cy="289.50" r="0.9" fill="#4cace2" />
<circle cx="312.20" cy="258.40" r="0.9" fill="#4cace2" />
<polyline points="212.60,288.80 262.40,289.80 312.20,278.00" fill="none" stroke="#f49f2c" stroke-width="0.9" stroke-linejoin="round"/>
<circle cx="212.60" cy="288.80" r="0.9" fill="#f49f2c" />
<circle cx="262.40" cy="289.80" r="0.9" fill="#f49f2c" />
<circle cx="312.20" cy="278.00" r="0.9" fill="#f49f2c" />
<polyline points="212.60,294.40 262.40,268.00 312.20,249.50" fill="none" stroke="#58b468" stroke-width="0.9" stroke-linejoin="round"/>
<circle cx="212.60" cy="294.40" r="0.9" fill="#58b468" />
<circle cx="262.40" cy="268.00" r="0.9" fill="#58b468" />
<circle cx="312.20" cy="249.50" r="0.9" fill="#58b468" />
<polyline points="212.60,298.40 262.40,279.60 312.20,277.80" fill="none" stroke="#503830" stroke-width="0.9" stroke-linejoin="round"/>
<circle cx="212.60" cy="298.40" r="0.9" fill="#503830" />
<circle cx="262.40" cy="279.60" r="0.9" fill="#503830" />
<circle cx="312.20" cy="277.80" r="0.9" fill="#503830" />
<polyline points="212.60,297.50 262.40,293.80 312.20,296.20" fill="none" stroke="#1e4f9c" stroke-width="0.9" stroke-linejoin="round"/>
<circle cx="212.60" cy="297.50" r="0.9" fill="#1e4f9c" />
<circle cx="262.40" cy="293.80" r="0.9" fill="#1e4f9c" />
<circle cx="312.20" cy="296.20" r="0.9" fill="#1e4f9c" />
<line x1="329.20" y1="257.60" x2="338.20" y2="257.60" stroke="#9a8cd0" stroke-width="0.9" />
<circle cx="333.70" cy="257.60" r="0.9" fill="#9a8cd0" />
<text transform="translate(341.80,260.40)" font-size="7.8" text-anchor="start" fill="#1a1a1a" font-weight="normal" font-style="normal"  stroke="#1a1a1a" stroke-width="0.22">Pt 1</text>
<line x1="329.20" y1="268.80" x2="338.20" y2="268.80" stroke="#4cace2" stroke-width="0.9" />
<circle cx="333.70" cy="268.80" r="0.9" fill="#4cace2" />
<text transform="translate(341.80,271.60)" font-size="7.8" text-anchor="start" fill="#1a1a1a" font-weight="normal" font-style="normal"  stroke="#1a1a1a" stroke-width="0.22">Pt 2</text>
<line x1="329.20" y1="280.00" x2="338.20" y2="280.00" stroke="#1e4f9c" stroke-width="0.9" />
<circle cx="333.70" cy="280.00" r="0.9" fill="#1e4f9c" />
<text transform="translate(341.80,282.80)" font-size="7.8" text-anchor="start" fill="#1a1a1a" font-weight="normal" font-style="normal"  stroke="#1a1a1a" stroke-width="0.22">Pt 3</text>
<line x1="329.20" y1="291.10" x2="338.20" y2="291.10" stroke="#58b468" stroke-width="0.9" />
<circle cx="333.70" cy="291.10" r="0.9" fill="#58b468" />
<text transform="translate(341.80,293.90)" font-size="7.8" text-anchor="start" fill="#1a1a1a" font-weight="normal" font-style="normal"  stroke="#1a1a1a" stroke-width="0.22">Pt 4</text>
<line x1="329.20" y1="302.40" x2="338.20" y2="302.40" stroke="#503830" stroke-width="0.9" />
<circle cx="333.70" cy="302.40" r="0.9" fill="#503830" />
<text transform="translate(341.80,305.20)" font-size="7.8" text-anchor="start" fill="#1a1a1a" font-weight="normal" font-style="normal"  stroke="#1a1a1a" stroke-width="0.22">Pt 5</text>
<line x1="329.20" y1="313.70" x2="338.20" y2="313.70" stroke="#f49f2c" stroke-width="0.9" />
<circle cx="333.70" cy="313.70" r="0.9" fill="#f49f2c" />
<text transform="translate(341.80,316.50)" font-size="7.8" text-anchor="start" fill="#1a1a1a" font-weight="normal" font-style="normal"  stroke="#1a1a1a" stroke-width="0.22">Pt 6</text>
<line x1="329.20" y1="324.90" x2="338.20" y2="324.90" stroke="#cfcadf" stroke-width="0.9" />
<circle cx="333.70" cy="324.90" r="0.9" fill="#cfcadf" />
<text transform="translate(341.80,327.70)" font-size="7.8" text-anchor="start" fill="#1a1a1a" font-weight="normal" font-style="normal"  stroke="#1a1a1a" stroke-width="0.22">Pt 7</text>
<line x1="427.50" y1="223.80" x2="427.50" y2="347.20" stroke="#1a1a1a" stroke-width="1.35" />
<line x1="423.80" y1="346.60" x2="427.50" y2="346.60" stroke="#1a1a1a" stroke-width="1.0" />
<text transform="translate(419.60,349.45)" font-size="8.0" text-anchor="end" fill="#1a1a1a" font-weight="normal" font-style="normal"  stroke="#1a1a1a" stroke-width="0.22">0.0</text>
<line x1="423.80" y1="322.60" x2="427.50" y2="322.60" stroke="#1a1a1a" stroke-width="1.0" />
<text transform="translate(419.60,325.45)" font-size="8.0" text-anchor="end" fill="#1a1a1a" font-weight="normal" font-style="normal"  stroke="#1a1a1a" stroke-width="0.22">0.5</text>
<line x1="423.80" y1="298.60" x2="427.50" y2="298.60" stroke="#1a1a1a" stroke-width="1.0" />
<text transform="translate(419.60,301.45)" font-size="8.0" text-anchor="end" fill="#1a1a1a" font-weight="normal" font-style="normal"  stroke="#1a1a1a" stroke-width="0.22">1.0</text>
<line x1="423.80" y1="274.60" x2="427.50" y2="274.60" stroke="#1a1a1a" stroke-width="1.0" />
<text transform="translate(419.60,277.45)" font-size="8.0" text-anchor="end" fill="#1a1a1a" font-weight="normal" font-style="normal"  stroke="#1a1a1a" stroke-width="0.22">1.5</text>
<line x1="423.80" y1="250.60" x2="427.50" y2="250.60" stroke="#1a1a1a" stroke-width="1.0" />
<text transform="translate(419.60,253.45)" font-size="8.0" text-anchor="end" fill="#1a1a1a" font-weight="normal" font-style="normal"  stroke="#1a1a1a" stroke-width="0.22">2.0</text>
<line x1="423.80" y1="226.60" x2="427.50" y2="226.60" stroke="#1a1a1a" stroke-width="1.0" />
<text transform="translate(419.60,229.45)" font-size="8.0" text-anchor="end" fill="#1a1a1a" font-weight="normal" font-style="normal"  stroke="#1a1a1a" stroke-width="0.22">2.5</text>
<line x1="426.90" y1="346.60" x2="510.00" y2="346.60" stroke="#1a1a1a" stroke-width="1.35" />
<line x1="427.50" y1="346.60" x2="427.50" y2="350.20" stroke="#1a1a1a" stroke-width="1.0" />
<line x1="447.40" y1="346.60" x2="447.40" y2="350.20" stroke="#1a1a1a" stroke-width="1.0" />
<line x1="467.30" y1="346.60" x2="467.30" y2="350.20" stroke="#1a1a1a" stroke-width="1.0" />
<line x1="487.20" y1="346.60" x2="487.20" y2="350.20" stroke="#1a1a1a" stroke-width="1.0" />
<line x1="507.10" y1="346.60" x2="507.10" y2="350.20" stroke="#1a1a1a" stroke-width="1.0" />
<text transform="translate(427.50,360.80)" font-size="8.0" text-anchor="middle" fill="#1a1a1a" font-weight="normal" font-style="normal"  stroke="#1a1a1a" stroke-width="0.22">0</text>
<text transform="translate(447.40,360.80)" font-size="8.0" text-anchor="middle" fill="#1a1a1a" font-weight="normal" font-style="normal"  stroke="#1a1a1a" stroke-width="0.22">20</text>
<text transform="translate(467.30,360.80)" font-size="8.0" text-anchor="middle" fill="#1a1a1a" font-weight="normal" font-style="normal"  stroke="#1a1a1a" stroke-width="0.22">40</text>
<text transform="translate(487.20,360.80)" font-size="8.0" text-anchor="middle" fill="#1a1a1a" font-weight="normal" font-style="normal"  stroke="#1a1a1a" stroke-width="0.22">60</text>
<text transform="translate(507.10,360.80)" font-size="8.0" text-anchor="middle" fill="#1a1a1a" font-weight="normal" font-style="normal"  stroke="#1a1a1a" stroke-width="0.22">80</text>
<text transform="translate(402.20,319.60) rotate(-90)" font-size="9.3" text-anchor="start" fill="#1a1a1a" font-weight="normal" font-style="normal"  textLength="14.5" lengthAdjust="spacingAndGlyphs" stroke="#1a1a1a" stroke-width="0.45">NETS</text>
<text transform="translate(402.20,303.10) rotate(-90)" font-size="9.3" text-anchor="start" fill="#1a1a1a" font-weight="normal" font-style="normal"  textLength="32.5" lengthAdjust="spacingAndGlyphs" stroke="#1a1a1a" stroke-width="0.45">induction</text>
<text transform="translate(402.20,267.10) rotate(-90)" font-size="9.3" text-anchor="start" fill="#1a1a1a" font-weight="normal" font-style="normal"  textLength="17.1" lengthAdjust="spacingAndGlyphs" stroke="#1a1a1a" stroke-width="0.45">(fold)</text>
<text transform="translate(428.20,375.80)" font-size="9.3" text-anchor="start" fill="#1a1a1a" font-weight="normal" font-style="normal"  textLength="51.8" lengthAdjust="spacingAndGlyphs" stroke="#1a1a1a" stroke-width="0.45">[Plasma 1,5-AG]</text>
<text transform="translate(484.40,375.80)" font-size="9.3" text-anchor="start" fill="#1a1a1a" font-weight="normal" font-style="normal"  textLength="25.5" lengthAdjust="spacingAndGlyphs" stroke="#1a1a1a" stroke-width="0.45">(μg/ml)</text>
<circle cx="428.50" cy="268.84" r="1.1" fill="#1a3f7c" />
<circle cx="432.48" cy="262.60" r="1.1" fill="#1a3f7c" />
<circle cx="439.94" cy="259.24" r="1.1" fill="#1a3f7c" />
<circle cx="428.50" cy="280.84" r="1.1" fill="#1a3f7c" />
<circle cx="429.49" cy="280.36" r="1.1" fill="#1a3f7c" />
<circle cx="431.98" cy="279.40" r="1.1" fill="#1a3f7c" />
<circle cx="437.95" cy="278.92" r="1.1" fill="#1a3f7c" />
<circle cx="431.48" cy="295.24" r="1.1" fill="#1a3f7c" />
<circle cx="432.97" cy="297.16" r="1.1" fill="#1a3f7c" />
<circle cx="433.47" cy="290.44" r="1.1" fill="#1a3f7c" />
<circle cx="436.95" cy="290.44" r="1.1" fill="#1a3f7c" />
<circle cx="439.94" cy="302.44" r="1.1" fill="#1a3f7c" />
<circle cx="441.93" cy="298.60" r="1.1" fill="#1a3f7c" />
<circle cx="443.92" cy="294.76" r="1.1" fill="#1a3f7c" />
<circle cx="470.28" cy="289.96" r="1.1" fill="#1a3f7c" />
<circle cx="470.78" cy="295.24" r="1.1" fill="#1a3f7c" />
<circle cx="474.26" cy="300.04" r="1.1" fill="#1a3f7c" />
<circle cx="476.75" cy="297.16" r="1.1" fill="#1a3f7c" />
<circle cx="483.22" cy="308.68" r="1.1" fill="#1a3f7c" />
<circle cx="499.14" cy="300.04" r="1.1" fill="#1a3f7c" />
<line x1="427.50" y1="279.40" x2="499.14" y2="307.72" stroke="#1c1c1c" stroke-width="0.95" />
<text transform="translate(451.00,245.20)" font-size="8.0" text-anchor="start" fill="#1a1a1a" font-weight="normal" font-style="normal"  textLength="33.8" lengthAdjust="spacingAndGlyphs" stroke="#1a1a1a" stroke-width="0.22"><tspan font-style="italic">P</tspan> = .0007</text>
<text transform="translate(164.90,415.20)" font-size="7.8" text-anchor="middle" fill="#1a1a1a" font-weight="normal" font-style="normal"  stroke="#1a1a1a" stroke-width="0.08">Control</text>
<text transform="translate(281.20,415.20)" font-size="7.8" text-anchor="middle" fill="#1a1a1a" font-weight="normal" font-style="normal"  stroke="#1a1a1a" stroke-width="0.08">Pt 6 (0)</text>
<text transform="translate(397.60,415.20)" font-size="7.8" text-anchor="middle" fill="#1a1a1a" font-weight="normal" font-style="normal"  stroke="#1a1a1a" stroke-width="0.08">Pt 6 (12 M)</text>
<text transform="translate(107.60,476.70)" font-size="7.8" text-anchor="end" fill="#1a1a1a" font-weight="normal" font-style="normal"  stroke="#1a1a1a" stroke-width="0.08">Ctl</text>
<text transform="translate(107.60,592.40)" font-size="7.8" text-anchor="end" fill="#1a1a1a" font-weight="normal" font-style="normal"  stroke="#1a1a1a" stroke-width="0.08">+ PMA</text>
<clipPath id="cl1"><rect x="0" y="0" width="106.3" height="106.3"/></clipPath>
<g transform="translate(111.9,421.05)" clip-path="url(#cl1)">
<rect x="0" y="0" width="106.3" height="106.3" fill="#09090c"/>
<polyline points="17.1,2.1 24,5 30.9,8.5 34.5,11" fill="none" stroke="#6a30b8" stroke-width="1.3" stroke-linecap="round" stroke-linejoin="round" opacity="0.95" filter="url(#b3)"/>
<polyline points="32,0.5 35.5,12 38.3,24.3 45.7,30.7" fill="none" stroke="#6a2cb8" stroke-width="2.6" stroke-linecap="round" stroke-linejoin="round" opacity="1.0" filter="url(#b1)"/>
<polyline points="34.5,9 38.3,24.3 42,28" fill="none" stroke="#c048c0" stroke-width="0.9" stroke-linecap="round" stroke-linejoin="round" opacity="0.85" filter="url(#b3)"/>
<polyline points="81.7,27.5 65.9,34.9 55,39.3 47.5,44 41.4,49.5" fill="none" stroke="#7a30b8" stroke-width="1.9" stroke-linecap="round" stroke-linejoin="round" opacity="1.0" filter="url(#b1)"/>
<polyline points="81.7,27.5 65.9,34.9 55,39.3 49,43" fill="none" stroke="#e050b8" stroke-width="0.9" stroke-linecap="round" stroke-linejoin="round" opacity="0.95" filter="url(#b3)"/>
<polyline points="45.7,33.9 43.5,41 41.5,48.7" fill="none" stroke="#7038b8" stroke-width="0.8" stroke-linecap="round" stroke-linejoin="round" opacity="0.9" filter="url(#b3)"/>
<polyline points="48.9,37 45,43" fill="none" stroke="#7038b8" stroke-width="0.8" stroke-linecap="round" stroke-linejoin="round" opacity="0.8" filter="url(#b3)"/>
<polyline points="0.2,83.7 12,80 23.4,76.8" fill="none" stroke="#d048b0" stroke-width="1.2" stroke-linecap="round" stroke-linejoin="round" opacity="1.0" filter="url(#b3)"/>
<polyline points="0.2,83.7 7,90 15,96.4" fill="none" stroke="#5a30b8" stroke-width="2.6" stroke-linecap="round" stroke-linejoin="round" opacity="1.0" filter="url(#b1)"/>
<polyline points="82,87.9 94,89 105.5,90.2" fill="none" stroke="#d848a8" stroke-width="1.2" stroke-linecap="round" stroke-linejoin="round" opacity="1.0" filter="url(#b3)"/>
<g filter="url(#cf)">
<ellipse cx="49.8" cy="6.4" rx="3.6" ry="3.6" fill="url(#cell)" opacity="0.95"/>
<ellipse cx="34.9" cy="29.8" rx="3.0" ry="3.0" fill="url(#cell)" opacity="0.95"/>
<ellipse cx="48" cy="30.9" rx="5.0" ry="5.0" fill="#6036c4" opacity="0.95"/>
<ellipse cx="64.3" cy="31.2" rx="3.6" ry="3.6" fill="url(#cell)" opacity="0.95"/>
<ellipse cx="81.7" cy="27.5" rx="3.3" ry="3.3" fill="#7a3cc4" opacity="0.95"/>
<ellipse cx="55.3" cy="47.1" rx="4.5" ry="4.5" fill="url(#cell)" opacity="0.95"/>
<ellipse cx="61.6" cy="52.9" rx="3.0" ry="3.0" fill="#a03cb4" opacity="0.95"/>
<ellipse cx="48.5" cy="58.3" rx="4.0" ry="4.0" fill="url(#cell)" opacity="0.95"/>
<ellipse cx="40.4" cy="65.7" rx="4.0" ry="4.0" fill="#5a32c0" opacity="0.95"/>
<ellipse cx="102.8" cy="65.3" rx="3.5" ry="4.5" fill="url(#cell)" opacity="0.95"/>
<ellipse cx="27.7" cy="75.8" rx="5.5" ry="3.8" fill="#a838a8" opacity="0.95"/>
<ellipse cx="33" cy="74.7" rx="3.2" ry="3.2" fill="url(#cell)" opacity="0.95"/>
<ellipse cx="8.6" cy="77.9" rx="3.4" ry="3.4" fill="url(#cell)" opacity="0.95"/>
<ellipse cx="25.6" cy="85.3" rx="3.5" ry="3.5" fill="url(#cell)" opacity="0.95"/>
<ellipse cx="39.8" cy="86.9" rx="3.2" ry="4.5" fill="url(#cell)" opacity="0.95"/>
<ellipse cx="61.2" cy="85.7" rx="4.4" ry="4.4" fill="url(#cell)" opacity="0.95"/>
<ellipse cx="14" cy="95" rx="4.5" ry="3.2" fill="#3a25a0" opacity="0.95"/>
<ellipse cx="47.8" cy="58.3" rx="3.5" ry="3.5" fill="url(#cell)" opacity="0.95"/>
</g>
<g filter="url(#b1)">
<ellipse cx="27" cy="76" rx="3.2" ry="2.0" fill="#e8409c" opacity="0.9"/>
<ellipse cx="42" cy="66" rx="1.5" ry="1.5" fill="#d04090" opacity="0.8"/>
<ellipse cx="61.6" cy="52.9" rx="1.5" ry="1.5" fill="#e04898" opacity="0.8"/>
<ellipse cx="38.3" cy="92.2" rx="1.3" ry="1.3" fill="#d8609c" opacity="0.95"/>
<ellipse cx="49" cy="30" rx="2" ry="2" fill="#9040c8" opacity="0.8"/>
</g>
<line x1="86.60" y1="101.00" x2="103.40" y2="101.00" stroke="#f4f4f4" stroke-width="0.7" />
<line x1="86.60" y1="99.80" x2="86.60" y2="102.20" stroke="#f4f4f4" stroke-width="0.6" />
<line x1="103.40" y1="99.80" x2="103.40" y2="102.20" stroke="#f4f4f4" stroke-width="0.6" />
<text transform="translate(95.00,99.60)" font-size="3.0" text-anchor="middle" fill="#f4f4f4" font-weight="bold" font-style="normal" >20 μm</text>
</g>
<clipPath id="cl2"><rect x="0" y="0" width="106.3" height="106.3"/></clipPath>
<g transform="translate(228.2,421.05)" clip-path="url(#cl2)">
<rect x="0" y="0" width="106.3" height="106.3" fill="#09090c"/>
<g filter="url(#cf)">
<ellipse cx="9.9" cy="3.1" rx="4.5" ry="4.5" fill="url(#cell)" opacity="0.95"/>
<ellipse cx="29.6" cy="2.4" rx="4.5" ry="4.5" fill="url(#cell)" opacity="0.95"/>
<ellipse cx="87.7" cy="14" rx="9" ry="6.5" fill="url(#cell)" opacity="0.95"/>
<ellipse cx="103" cy="4.6" rx="3" ry="3" fill="#7a35c8" opacity="0.95"/>
<ellipse cx="30.7" cy="23.2" rx="5.5" ry="4" fill="url(#cell)" opacity="0.95"/>
<ellipse cx="71.3" cy="26.5" rx="5.5" ry="5.5" fill="url(#cell)" opacity="0.95"/>
<ellipse cx="100.9" cy="29.8" rx="3" ry="4.5" fill="url(#cell)" opacity="0.95"/>
<ellipse cx="13.2" cy="30.9" rx="3.5" ry="3.5" fill="url(#cell)" opacity="0.95"/>
<ellipse cx="21.9" cy="37.5" rx="6" ry="6" fill="#7038c0" opacity="0.95"/>
<ellipse cx="78.9" cy="37.5" rx="6.5" ry="6.5" fill="url(#cell)" opacity="0.95"/>
<ellipse cx="65.8" cy="41.9" rx="3.5" ry="3.5" fill="url(#cell)" opacity="0.95"/>
<ellipse cx="85" cy="45.5" rx="4" ry="4" fill="#8a38b8" opacity="0.95"/>
<ellipse cx="27.4" cy="51.3" rx="5.5" ry="7" fill="url(#cell)" opacity="0.95"/>
<ellipse cx="1.1" cy="53.5" rx="4" ry="4" fill="url(#cell)" opacity="0.95"/>
<ellipse cx="63.6" cy="56.1" rx="4.5" ry="4.5" fill="url(#cell)" opacity="0.95"/>
<ellipse cx="76.7" cy="56.1" rx="5" ry="5" fill="url(#cell)" opacity="0.95"/>
<ellipse cx="99.8" cy="64.9" rx="5.5" ry="5.5" fill="#7a38c0" opacity="0.95"/>
<ellipse cx="29.6" cy="70.4" rx="9" ry="6.5" fill="url(#cell)" opacity="0.95"/>
<ellipse cx="68" cy="73.7" rx="5.5" ry="7" fill="url(#cell)" opacity="0.95"/>
<ellipse cx="53.7" cy="79.1" rx="6" ry="6" fill="url(#cell)" opacity="0.95"/>
<ellipse cx="83.3" cy="77" rx="7" ry="7" fill="#8a3ac0" opacity="0.95"/>
<ellipse cx="91" cy="71.5" rx="3" ry="3" fill="#d83fa8" opacity="0.95"/>
<ellipse cx="29.6" cy="84.6" rx="4" ry="4" fill="url(#cell)" opacity="0.95"/>
<ellipse cx="6" cy="88.5" rx="5" ry="5" fill="url(#cell)" opacity="0.95"/>
<ellipse cx="16" cy="87" rx="6" ry="5" fill="url(#cell)" opacity="0.95"/>
<ellipse cx="55.9" cy="92.3" rx="5" ry="5" fill="url(#cell)" opacity="0.95"/>
<ellipse cx="68" cy="92.3" rx="5" ry="5" fill="url(#cell)" opacity="0.95"/>
<ellipse cx="60.3" cy="98.9" rx="5" ry="5" fill="#7a38c0" opacity="0.95"/>
</g>
<g filter="url(#b1)">
<ellipse cx="84" cy="78" rx="2.2" ry="2.2" fill="#e8408c" opacity="0.95"/>
<ellipse cx="91" cy="71" rx="1.4" ry="1.4" fill="#e8408c" opacity="0.95"/>
<ellipse cx="35" cy="68" rx="2.0" ry="2.0" fill="#c040a8" opacity="0.95"/>
<ellipse cx="22" cy="38" rx="2.4" ry="2.4" fill="#a040b8" opacity="0.95"/>
<ellipse cx="60" cy="100" rx="2.0" ry="2.0" fill="#b040b0" opacity="0.95"/>
<ellipse cx="85" cy="46" rx="2" ry="2" fill="#b040b0" opacity="0.95"/>
<ellipse cx="102" cy="66" rx="1.5" ry="1.5" fill="#e8408c" opacity="0.95"/>
</g>
<line x1="86.60" y1="101.00" x2="103.40" y2="101.00" stroke="#f4f4f4" stroke-width="0.7" />
<line x1="86.60" y1="99.80" x2="86.60" y2="102.20" stroke="#f4f4f4" stroke-width="0.6" />
<line x1="103.40" y1="99.80" x2="103.40" y2="102.20" stroke="#f4f4f4" stroke-width="0.6" />
<text transform="translate(95.00,99.60)" font-size="3.0" text-anchor="middle" fill="#f4f4f4" font-weight="bold" font-style="normal" >20 μm</text>
</g>
<clipPath id="cl3"><rect x="0" y="0" width="106.3" height="106.3"/></clipPath>
<g transform="translate(344.5,421.05)" clip-path="url(#cl3)">
<rect x="0" y="0" width="106.3" height="106.3" fill="#09090c"/>
<polyline points="0.6,15.9 14,9.5 30.2,3.2" fill="none" stroke="#3a2aa0" stroke-width="4.5" stroke-linecap="round" stroke-linejoin="round" opacity="0.9" filter="url(#hz)"/>
<polyline points="38.7,37 30,45 19.7,52" fill="none" stroke="#4430bc" stroke-width="7.0" stroke-linecap="round" stroke-linejoin="round" opacity="0.9" filter="url(#hz)"/>
<polyline points="51.4,14.8 49,21 47.2,27.5" fill="none" stroke="#4a2cb0" stroke-width="1.6" stroke-linecap="round" stroke-linejoin="round" opacity="0.8" filter="url(#b1)"/>
<g filter="url(#cf)">
<ellipse cx="51.5" cy="4.6" rx="5" ry="5" fill="#4430bc" opacity="0.95"/>
<ellipse cx="65.8" cy="5.7" rx="4.5" ry="4.5" fill="#4430bc" opacity="0.95"/>
<ellipse cx="86.6" cy="11.2" rx="5" ry="5" fill="#4430bc" opacity="0.95"/>
<ellipse cx="99.8" cy="13.4" rx="4" ry="4" fill="#4430bc" opacity="0.95"/>
<ellipse cx="103" cy="2.4" rx="3" ry="3" fill="#4430bc" opacity="0.95"/>
<ellipse cx="54.8" cy="17.8" rx="4" ry="6" fill="#4430bc" opacity="0.95"/>
<ellipse cx="60.3" cy="24.3" rx="3.5" ry="3.5" fill="#4430bc" opacity="0.95"/>
<ellipse cx="38.7" cy="37" rx="6.5" ry="6.5" fill="url(#cell)" opacity="0.95"/>
<ellipse cx="28.5" cy="49.6" rx="8" ry="10" fill="#4430bc" opacity="0.95"/>
<ellipse cx="19.7" cy="58.3" rx="9" ry="9" fill="#4430bc" opacity="0.95"/>
<ellipse cx="4.4" cy="61.6" rx="5" ry="5" fill="#4430bc" opacity="0.95"/>
<ellipse cx="28.5" cy="62.7" rx="6" ry="6" fill="#4430bc" opacity="0.95"/>
<ellipse cx="35.1" cy="72.6" rx="6" ry="6" fill="#4430bc" opacity="0.95"/>
<ellipse cx="80" cy="55" rx="5" ry="5" fill="#4430bc" opacity="0.95"/>
<ellipse cx="70.2" cy="62.7" rx="6" ry="6" fill="#4430bc" opacity="0.95"/>
<ellipse cx="83.3" cy="68.2" rx="5.5" ry="8" fill="#4430bc" opacity="0.95"/>
<ellipse cx="87.7" cy="47.4" rx="3.5" ry="7" fill="#4430bc" opacity="0.95"/>
<ellipse cx="97.6" cy="85.7" rx="5" ry="5" fill="#4430bc" opacity="0.95"/>
<ellipse cx="14.3" cy="80.2" rx="7" ry="7" fill="#4430bc" opacity="0.95"/>
<ellipse cx="26.3" cy="86.8" rx="6" ry="6" fill="#4430bc" opacity="0.95"/>
<ellipse cx="8.8" cy="97.8" rx="6" ry="6" fill="#4430bc" opacity="0.95"/>
<ellipse cx="52.6" cy="85.7" rx="5" ry="5" fill="#4430bc" opacity="0.95"/>
<ellipse cx="52.6" cy="96.7" rx="6" ry="6" fill="#4430bc" opacity="0.95"/>
<ellipse cx="71.3" cy="93.4" rx="6" ry="6" fill="#4430bc" opacity="0.95"/>
<ellipse cx="29.6" cy="102.2" rx="4" ry="4" fill="#4430bc" opacity="0.95"/>
<ellipse cx="61.4" cy="103.3" rx="3" ry="3" fill="#4430bc" opacity="0.95"/>
<ellipse cx="80" cy="102.2" rx="4" ry="4" fill="#4430bc" opacity="0.95"/>
<ellipse cx="38.4" cy="90.1" rx="3" ry="3" fill="#4430bc" opacity="0.95"/>
<ellipse cx="8" cy="72" rx="5" ry="5" fill="#3422a0" opacity="0.95"/>
<ellipse cx="20" cy="70" rx="5" ry="5" fill="#3422a0" opacity="0.95"/>
<ellipse cx="42" cy="60" rx="5" ry="5" fill="#3422a0" opacity="0.7"/>
<ellipse cx="12" cy="48" rx="5" ry="6" fill="#3422a0" opacity="0.7"/>
<ellipse cx="95" cy="60" rx="4" ry="4" fill="#3422a0" opacity="0.6"/>
<ellipse cx="62" cy="40" rx="3" ry="3" fill="#3422a0" opacity="0.6"/>
</g>
<g filter="url(#b1)">
<ellipse cx="83.3" cy="18.9" rx="2.4" ry="2.4" fill="#e03c84" opacity="0.95"/>
<ellipse cx="52.6" cy="85.7" rx="1.8" ry="1.8" fill="#e03c84" opacity="0.95"/>
</g>
<polyline points="5.9,54 10.5,43 14.4,33.9 13.8,26.5" fill="none" stroke="#d43a7a" stroke-width="0.8" stroke-linecap="round" stroke-linejoin="round" opacity="0.95" filter="url(#b3)"/>
<polyline points="14.4,33.9 16.5,30.5" fill="none" stroke="#d43a7a" stroke-width="1.2" stroke-linecap="round" stroke-linejoin="round" opacity="0.9" filter="url(#b3)"/>
<polyline points="89.9,37.5 98.7,29.8" fill="none" stroke="#d43a7a" stroke-width="0.8" stroke-linecap="round" stroke-linejoin="round" opacity="0.9" filter="url(#b3)"/>
<polyline points="93.2,38.6 103,32 103,43" fill="none" stroke="#d43a7a" stroke-width="0.8" stroke-linecap="round" stroke-linejoin="round" opacity="0.9" filter="url(#b3)"/>
<polyline points="88,40 96,45 101,50" fill="none" stroke="#6a30b4" stroke-width="1.4" stroke-linecap="round" stroke-linejoin="round" opacity="0.8" filter="url(#b1)"/>
<polyline points="48,76 55,76 62,72" fill="none" stroke="#d43a7a" stroke-width="0.7" stroke-linecap="round" stroke-linejoin="round" opacity="0.85" filter="url(#b3)"/>
<polyline points="50,80 55,76 58,70" fill="none" stroke="#d43a7a" stroke-width="0.7" stroke-linecap="round" stroke-linejoin="round" opacity="0.85" filter="url(#b3)"/>
<polyline points="38,84 42,90 46,92" fill="none" stroke="#d43a7a" stroke-width="0.7" stroke-linecap="round" stroke-linejoin="round" opacity="0.85" filter="url(#b3)"/>
<polyline points="54,88 60,90" fill="none" stroke="#d43a7a" stroke-width="0.7" stroke-linecap="round" stroke-linejoin="round" opacity="0.85" filter="url(#b3)"/>
<line x1="86.60" y1="101.00" x2="103.40" y2="101.00" stroke="#f4f4f4" stroke-width="0.7" />
<line x1="86.60" y1="99.80" x2="86.60" y2="102.20" stroke="#f4f4f4" stroke-width="0.6" />
<line x1="103.40" y1="99.80" x2="103.40" y2="102.20" stroke="#f4f4f4" stroke-width="0.6" />
<text transform="translate(95.00,99.60)" font-size="3.0" text-anchor="middle" fill="#f4f4f4" font-weight="bold" font-style="normal" >20 μm</text>
</g>
<clipPath id="cl4"><rect x="0" y="0" width="106.3" height="106.3"/></clipPath>
<g transform="translate(111.9,537.05)" clip-path="url(#cl4)">
<rect x="0" y="0" width="106.3" height="106.3" fill="#09090c"/>
<g filter="url(#cf)">
<ellipse cx="15" cy="64.4" rx="7" ry="6" fill="url(#cell)" opacity="0.8"/>
<ellipse cx="28.8" cy="79.2" rx="9" ry="9" fill="url(#cell)" opacity="0.85"/>
<ellipse cx="35" cy="43" rx="5" ry="8" fill="url(#cell)" opacity="0.7"/>
<ellipse cx="40" cy="55" rx="4" ry="7" fill="url(#cell)" opacity="0.6"/>
<ellipse cx="10" cy="92" rx="9" ry="10" fill="#5a2cb0" opacity="0.6"/>
<ellipse cx="22" cy="98" rx="9" ry="7" fill="#5a2cb0" opacity="0.5"/>
<ellipse cx="3" cy="95" rx="3" ry="12" fill="#7a35c8" opacity="0.6"/>
<ellipse cx="40" cy="97" rx="9" ry="5" fill="#4a28a8" opacity="0.5"/>
<ellipse cx="43.4" cy="21" rx="3" ry="4.5" fill="url(#cell)" opacity="0.95"/>
<ellipse cx="61.7" cy="19.9" rx="4" ry="4" fill="url(#cell)" opacity="0.95"/>
<ellipse cx="85" cy="25" rx="4.2" ry="4.2" fill="#5a30c0" opacity="0.95"/>
<ellipse cx="76.5" cy="29.4" rx="2" ry="2" fill="#3a25a0" opacity="0.95"/>
<ellipse cx="57.7" cy="43" rx="5" ry="4" fill="url(#cell)" opacity="0.95"/>
<ellipse cx="8.5" cy="1.9" rx="6" ry="3.5" fill="#3a25a0" opacity="0.8"/>
<ellipse cx="61.7" cy="92" rx="4.5" ry="11" fill="#6a34c0" opacity="0.95"/>
<ellipse cx="73.4" cy="91.9" rx="4.2" ry="4.2" fill="#7a38c0" opacity="0.95"/>
<ellipse cx="103" cy="78.2" rx="4" ry="10.5" fill="#7a38c0" opacity="0.95"/>
<ellipse cx="93.5" cy="94" rx="4.5" ry="4.5" fill="#5a30c0" opacity="0.95"/>
<ellipse cx="89" cy="9" rx="5" ry="3" fill="#3a25a0" opacity="0.7"/>
</g>
<polyline points="0,92 11.9,76 25.7,66 36,54 41.3,43.2 45.5,33.6" fill="none" stroke="#5a34d0" stroke-width="10.0" stroke-linecap="round" stroke-linejoin="round" opacity="0.9" filter="url(#hz)"/>
<polyline points="0,100 10,92 22,84 30,78" fill="none" stroke="#6a34c8" stroke-width="9.0" stroke-linecap="round" stroke-linejoin="round" opacity="0.8" filter="url(#hz)"/>
<polyline points="45.5,33.6 54,29.4 65,23 77.6,16.2 87.1,15.1 98.8,15.6" fill="none" stroke="#5a34d0" stroke-width="5.0" stroke-linecap="round" stroke-linejoin="round" opacity="0.8" filter="url(#hz)"/>
<polyline points="2.4,86.6 11.9,75 25.7,65.5 36,53.8 41.3,43.2 45.5,33.6 54,29.4" fill="none" stroke="#a040c8" stroke-width="3.6" stroke-linecap="round" stroke-linejoin="round" opacity="1.0" filter="url(#b1)"/>
<polyline points="2.4,86.6 11.9,75 25.7,65.5 36,53.8 41.3,43.2 45.5,33.6 54,29.4" fill="none" stroke="#d858c8" stroke-width="1.0" stroke-linecap="round" stroke-linejoin="round" opacity="0.5" filter="url(#b3)"/>
<polyline points="52.2,30.4 65,23 77.6,16.2 87.1,15.1 98.8,15.6 106.5,14.6" fill="none" stroke="#ac44c8" stroke-width="2.1" stroke-linecap="round" stroke-linejoin="round" opacity="1.0" filter="url(#b1)"/>
<polyline points="45.5,33.6 44.5,27 43.4,21" fill="none" stroke="#c048c0" stroke-width="1.4" stroke-linecap="round" stroke-linejoin="round" opacity="1.0" filter="url(#b3)"/>
<polyline points="77.6,16.2 77.8,11 77,7.7 74.5,7.2" fill="none" stroke="#d048b8" stroke-width="1.4" stroke-linecap="round" stroke-linejoin="round" opacity="1.0" filter="url(#b3)"/>
<polyline points="89.2,12.5 97,7.5 105.5,2.4" fill="none" stroke="#a040c0" stroke-width="1.1" stroke-linecap="round" stroke-linejoin="round" opacity="1.0" filter="url(#b3)"/>
<polyline points="48.7,41 56,43.4 63.8,43.1" fill="none" stroke="#d048b8" stroke-width="1.3" stroke-linecap="round" stroke-linejoin="round" opacity="1.0" filter="url(#b3)"/>
<polyline points="16,83.4 18,94 20.4,104.6" fill="none" stroke="#c040b8" stroke-width="1.1" stroke-linecap="round" stroke-linejoin="round" opacity="1.0" filter="url(#b3)"/>
<polyline points="23.5,94 21,100 18.5,105.5" fill="none" stroke="#c040b8" stroke-width="1.0" stroke-linecap="round" stroke-linejoin="round" opacity="1.0" filter="url(#b3)"/>
<polyline points="31,100.4 40,99.6 49,98.3" fill="none" stroke="#c040b8" stroke-width="1.2" stroke-linecap="round" stroke-linejoin="round" opacity="1.0" filter="url(#b3)"/>
<polyline points="34,89.8 39,91 43.6,92" fill="none" stroke="#b040b8" stroke-width="1.0" stroke-linecap="round" stroke-linejoin="round" opacity="1.0" filter="url(#b3)"/>
<polyline points="2,88 8,80 14,76" fill="none" stroke="#c040b8" stroke-width="1.0" stroke-linecap="round" stroke-linejoin="round" opacity="0.8" filter="url(#b3)"/>
<polyline points="0.5,100 6,90 12,82" fill="none" stroke="#a038c0" stroke-width="1.6" stroke-linecap="round" stroke-linejoin="round" opacity="0.8" filter="url(#b1)"/>
<g filter="url(#b1)">
<ellipse cx="29" cy="80" rx="3.2" ry="3" fill="#c840b0" opacity="0.9"/>
<ellipse cx="86" cy="17.7" rx="3.4" ry="3" fill="#d848b0" opacity="0.95"/>
<ellipse cx="61.7" cy="86" rx="2.2" ry="3.5" fill="#d040b0" opacity="0.85"/>
<ellipse cx="103" cy="74" rx="1.8" ry="4" fill="#d040b0" opacity="0.8"/>
<ellipse cx="73" cy="91" rx="2" ry="2" fill="#c040b0" opacity="0.7"/>
<ellipse cx="104" cy="15" rx="3" ry="2" fill="#c848b8" opacity="0.9"/>
</g>
<path d="M47.0 62 L62.3 55.6 L62.3 60.75 L77.5 60.75 L77.5 63.25 L62.3 63.25 L62.3 68.4 Z" fill="#ffffff"/>
<line x1="86.60" y1="101.00" x2="103.40" y2="101.00" stroke="#f4f4f4" stroke-width="0.7" />
<line x1="86.60" y1="99.80" x2="86.60" y2="102.20" stroke="#f4f4f4" stroke-width="0.6" />
<line x1="103.40" y1="99.80" x2="103.40" y2="102.20" stroke="#f4f4f4" stroke-width="0.6" />
<text transform="translate(95.00,99.60)" font-size="3.0" text-anchor="middle" fill="#f4f4f4" font-weight="bold" font-style="normal" >20 μm</text>
</g>
<clipPath id="cl5"><rect x="0" y="0" width="106.3" height="106.3"/></clipPath>
<g transform="translate(228.2,537.05)" clip-path="url(#cl5)">
<rect x="0" y="0" width="106.3" height="106.3" fill="#09090c"/>
<g filter="url(#cf)">
<ellipse cx="5.5" cy="6" rx="4.5" ry="6" fill="#6234bc" opacity="0.95"/>
<ellipse cx="5" cy="17" rx="4" ry="6" fill="#6234bc" opacity="0.95"/>
<ellipse cx="4" cy="28" rx="4.5" ry="6" fill="url(#cell)" opacity="0.95"/>
<ellipse cx="5.5" cy="40" rx="4.5" ry="6.5" fill="#6234bc" opacity="0.95"/>
<ellipse cx="4.4" cy="51.7" rx="4.5" ry="7" fill="url(#cell)" opacity="0.95"/>
<ellipse cx="3" cy="62" rx="3" ry="5" fill="url(#cell)" opacity="0.8"/>
<ellipse cx="21" cy="19" rx="6.5" ry="4.5" fill="url(#cell)" opacity="0.95"/>
<ellipse cx="54.8" cy="17.8" rx="8" ry="10" fill="url(#cell)" opacity="0.95"/>
<ellipse cx="61.4" cy="8.5" rx="4.5" ry="4.5" fill="#8038bc" opacity="0.95"/>
<ellipse cx="65.6" cy="2.1" rx="4" ry="4" fill="url(#cell)" opacity="0.95"/>
<ellipse cx="92.1" cy="31" rx="10.5" ry="6.5" fill="url(#cell)" opacity="0.95"/>
<ellipse cx="88" cy="38" rx="4" ry="4" fill="url(#cell)" opacity="0.95"/>
<ellipse cx="102.5" cy="44" rx="3.5" ry="8" fill="url(#cell)" opacity="0.95"/>
<ellipse cx="32.9" cy="48.5" rx="11" ry="8" fill="url(#cell)" opacity="0.95"/>
<ellipse cx="44" cy="42" rx="6" ry="4" fill="url(#cell)" opacity="0.95"/>
<ellipse cx="15.4" cy="61.6" rx="4" ry="4" fill="url(#cell)" opacity="0.95"/>
<ellipse cx="48.2" cy="61.6" rx="5" ry="5" fill="url(#cell)" opacity="0.95"/>
<ellipse cx="69.1" cy="56.1" rx="6" ry="6.5" fill="url(#cell)" opacity="0.95"/>
<ellipse cx="68" cy="69.3" rx="4.8" ry="7" fill="url(#cell)" opacity="0.95"/>
<ellipse cx="25.2" cy="73.7" rx="5" ry="6" fill="url(#cell)" opacity="0.95"/>
<ellipse cx="18.6" cy="84.6" rx="6" ry="5" fill="url(#cell)" opacity="0.95"/>
<ellipse cx="98.7" cy="78.1" rx="6" ry="6" fill="url(#cell)" opacity="0.95"/>
<ellipse cx="36.2" cy="90.1" rx="8" ry="5.5" fill="#6234bc" opacity="0.95"/>
<ellipse cx="65.8" cy="87.9" rx="5" ry="5" fill="url(#cell)" opacity="0.95"/>
<ellipse cx="54.8" cy="95.6" rx="6" ry="7" fill="url(#cell)" opacity="0.95"/>
<ellipse cx="96.5" cy="91.2" rx="5" ry="6.5" fill="url(#cell)" opacity="0.95"/>
<ellipse cx="17.5" cy="98.9" rx="4" ry="4" fill="#7a35c8" opacity="0.95"/>
<ellipse cx="6.6" cy="100" rx="4" ry="4" fill="url(#cell)" opacity="0.95"/>
<ellipse cx="81.1" cy="67.1" rx="3" ry="3" fill="url(#cell)" opacity="0.95"/>
<ellipse cx="78" cy="45" rx="3" ry="3" fill="url(#cell)" opacity="0.7"/>
<ellipse cx="30" cy="60" rx="4" ry="4" fill="url(#cell)" opacity="0.6"/>
<ellipse cx="86" cy="97" rx="3.5" ry="3.5" fill="url(#cell)" opacity="0.7"/>
</g>
<g filter="url(#b1)">
<ellipse cx="35.8" cy="14.3" rx="3.8" ry="3.0" fill="#e040a0" opacity="0.95"/>
<ellipse cx="81.1" cy="50.8" rx="4.2" ry="2.4" fill="#d83078" opacity="0.9"/>
<ellipse cx="61.3" cy="10" rx="2.6" ry="2.6" fill="#d83fa8" opacity="0.8"/>
<ellipse cx="37" cy="90" rx="3.5" ry="2.5" fill="#b040b0" opacity="0.8"/>
<ellipse cx="17" cy="99" rx="2" ry="2" fill="#d83fa8" opacity="0.8"/>
<ellipse cx="92" cy="45" rx="1.2" ry="1.2" fill="#e8408c" opacity="0.95"/>
<ellipse cx="70" cy="66" rx="2" ry="3" fill="#b040b0" opacity="0.7"/>
<ellipse cx="9" cy="45" rx="1.5" ry="4" fill="#b040b0" opacity="0.6"/>
<ellipse cx="7" cy="12" rx="1.5" ry="4" fill="#a040b8" opacity="0.6"/>
</g>
<polyline points="53.7,27.6 48,34 42.8,40.8" fill="none" stroke="#d048a8" stroke-width="0.8" stroke-linecap="round" stroke-linejoin="round" opacity="0.9" filter="url(#b3)"/>
<polyline points="14.7,36 17,43 18.9,49.7" fill="none" stroke="#d048a8" stroke-width="0.9" stroke-linecap="round" stroke-linejoin="round" opacity="0.9" filter="url(#b3)"/>
<polyline points="8,30 14,38" fill="none" stroke="#c048b0" stroke-width="0.8" stroke-linecap="round" stroke-linejoin="round" opacity="0.8" filter="url(#b3)"/>
<polyline points="20,86 26,92 30,99" fill="none" stroke="#b040b8" stroke-width="0.8" stroke-linecap="round" stroke-linejoin="round" opacity="0.7" filter="url(#b3)"/>
<line x1="86.60" y1="101.00" x2="103.40" y2="101.00" stroke="#f4f4f4" stroke-width="0.7" />
<line x1="86.60" y1="99.80" x2="86.60" y2="102.20" stroke="#f4f4f4" stroke-width="0.6" />
<line x1="103.40" y1="99.80" x2="103.40" y2="102.20" stroke="#f4f4f4" stroke-width="0.6" />
<text transform="translate(95.00,99.60)" font-size="3.0" text-anchor="middle" fill="#f4f4f4" font-weight="bold" font-style="normal" >20 μm</text>
</g>
<clipPath id="cl6"><rect x="0" y="0" width="106.3" height="106.3"/></clipPath>
<g transform="translate(344.5,537.05)" clip-path="url(#cl6)">
<rect x="0" y="0" width="106.3" height="106.3" fill="#09090c"/>
<g filter="url(#cf)">
<ellipse cx="7.7" cy="12.3" rx="7" ry="7" fill="url(#cell)" opacity="0.95"/>
<ellipse cx="6.6" cy="2.4" rx="4" ry="4" fill="#7a35c8" opacity="0.95"/>
<ellipse cx="24.1" cy="11.2" rx="6" ry="6" fill="url(#cell)" opacity="0.95"/>
<ellipse cx="30.7" cy="4.6" rx="4" ry="4" fill="#9a3ac0" opacity="0.95"/>
<ellipse cx="64.7" cy="4.6" rx="4" ry="5.5" fill="url(#cell)" opacity="0.95"/>
<ellipse cx="87.7" cy="6.8" rx="5" ry="5" fill="url(#cell)" opacity="0.95"/>
<ellipse cx="100.9" cy="4.6" rx="4" ry="4" fill="url(#cell)" opacity="0.95"/>
<ellipse cx="50.4" cy="27.6" rx="7" ry="9" fill="url(#cell)" opacity="0.95"/>
<ellipse cx="63.6" cy="23.2" rx="6" ry="6" fill="url(#cell)" opacity="0.95"/>
<ellipse cx="100.9" cy="29.8" rx="5" ry="7" fill="url(#cell)" opacity="0.95"/>
<ellipse cx="15.4" cy="43" rx="6.5" ry="10" fill="url(#cell)" opacity="0.95"/>
<ellipse cx="36.2" cy="39.7" rx="5" ry="5" fill="url(#cell)" opacity="0.95"/>
<ellipse cx="26.3" cy="49.6" rx="5" ry="5" fill="#7a38c0" opacity="0.95"/>
<ellipse cx="47.1" cy="49.6" rx="3" ry="5" fill="#7a38c0" opacity="0.95"/>
<ellipse cx="81.1" cy="40.8" rx="4.5" ry="4.5" fill="#c03898" opacity="0.95"/>
<ellipse cx="102" cy="48.5" rx="3.5" ry="6" fill="#8a3ac0" opacity="0.95"/>
<ellipse cx="35.1" cy="62.7" rx="5" ry="5" fill="url(#cell)" opacity="0.95"/>
<ellipse cx="17.5" cy="70.4" rx="6" ry="3.5" fill="#8a3ac0" opacity="0.95"/>
<ellipse cx="5.5" cy="78.1" rx="5" ry="5" fill="url(#cell)" opacity="0.95"/>
<ellipse cx="20.8" cy="81.3" rx="4" ry="4" fill="url(#cell)" opacity="0.95"/>
<ellipse cx="61.4" cy="71.5" rx="6" ry="9" fill="url(#cell)" opacity="0.95"/>
<ellipse cx="52.6" cy="82.4" rx="10" ry="6.5" fill="url(#cell)" opacity="0.95"/>
<ellipse cx="94.3" cy="79.1" rx="6" ry="7" fill="url(#cell)" opacity="0.95"/>
<ellipse cx="96.5" cy="91.2" rx="5" ry="5" fill="url(#cell)" opacity="0.95"/>
<ellipse cx="3.3" cy="93.4" rx="5" ry="5" fill="url(#cell)" opacity="0.95"/>
<ellipse cx="66.9" cy="103.3" rx="3" ry="3" fill="url(#cell)" opacity="0.95"/>
<ellipse cx="58" cy="90" rx="5" ry="5" fill="#3a25a0" opacity="0.95"/>
</g>
<polyline points="62.5,27.6 61.8,40 61.4,53.9 60.3,69.3 52.6,80" fill="none" stroke="#c040a8" stroke-width="0.8" stroke-linecap="round" stroke-linejoin="round" opacity="0.8" filter="url(#b3)"/>
<polyline points="46.1,83.7 39.5,91.2 31,98.5 25,103.8" fill="none" stroke="#9a38b8" stroke-width="2.4" stroke-linecap="round" stroke-linejoin="round" opacity="0.8" filter="url(#b1)"/>
<polyline points="46.1,83.7 39.5,91.2 31,98.5 25,103.8" fill="none" stroke="#e048a8" stroke-width="0.9" stroke-linecap="round" stroke-linejoin="round" opacity="0.95" filter="url(#b3)"/>
<polyline points="13.3,74.7 19,70.5 22.8,64.6" fill="none" stroke="#d040a8" stroke-width="1.6" stroke-linecap="round" stroke-linejoin="round" opacity="0.9" filter="url(#b1)"/>
<polyline points="42.8,17.8 46,23 50.4,27.6" fill="none" stroke="#d83fa8" stroke-width="0.9" stroke-linecap="round" stroke-linejoin="round" opacity="1.0" filter="url(#b3)"/>
<polyline points="84.4,16.7 79,21 74.5,25.4" fill="none" stroke="#d83fa8" stroke-width="0.9" stroke-linecap="round" stroke-linejoin="round" opacity="1.0" filter="url(#b3)"/>
<polyline points="21.9,51.7 30.7,47.4" fill="none" stroke="#d83fa8" stroke-width="0.9" stroke-linecap="round" stroke-linejoin="round" opacity="1.0" filter="url(#b3)"/>
<g filter="url(#b1)">
<ellipse cx="81.1" cy="40.8" rx="2.6" ry="2.6" fill="#e8408c" opacity="0.95"/>
<ellipse cx="47" cy="47" rx="1.6" ry="1.6" fill="#e8408c" opacity="0.95"/>
<ellipse cx="88" cy="8" rx="1.5" ry="1.5" fill="#d83fa8" opacity="0.95"/>
</g>
<line x1="86.60" y1="101.00" x2="103.40" y2="101.00" stroke="#f4f4f4" stroke-width="0.7" />
<line x1="86.60" y1="99.80" x2="86.60" y2="102.20" stroke="#f4f4f4" stroke-width="0.6" />
<line x1="103.40" y1="99.80" x2="103.40" y2="102.20" stroke="#f4f4f4" stroke-width="0.6" />
<text transform="translate(95.00,99.60)" font-size="3.0" text-anchor="middle" fill="#f4f4f4" font-weight="bold" font-style="normal" >20 μm</text>
</g>
<rect x="0.5" y="0.5" width="519" height="651" fill="none" stroke="#3e3e3e" stroke-width="1.0"/>
</svg>
</body></html>
